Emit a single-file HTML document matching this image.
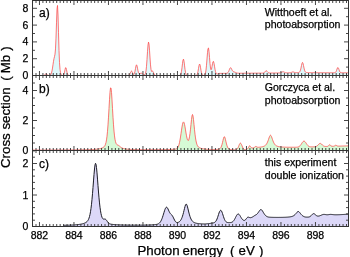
<!DOCTYPE html><html><head><meta charset="utf-8"><style>html,body{margin:0;padding:0;background:#fff;width:350px;height:257px;overflow:hidden}svg{display:block}</style></head><body><svg width="350" height="257" viewBox="0 0 350 257">
<rect width="350" height="257" fill="#fff"/>
<path d="M32.50,75.50 L33.00,75.50 L33.50,75.50 L34.00,75.50 L34.50,75.50 L35.00,75.50 L35.50,75.50 L36.00,75.50 L36.50,75.50 L37.00,75.50 L37.50,75.50 L38.00,75.50 L38.50,75.50 L39.00,75.50 L39.50,75.50 L40.00,75.50 L40.50,75.50 L41.00,75.50 L41.50,75.50 L42.00,75.50 L42.50,75.50 L43.00,75.49 L43.50,75.45 L44.00,75.32 L44.50,75.02 L45.00,74.55 L45.50,74.08 L46.00,73.90 L46.50,74.15 L47.00,74.65 L47.50,75.10 L48.00,75.35 L48.50,75.45 L49.00,75.47 L49.50,75.42 L50.00,75.27 L50.50,74.93 L51.00,74.23 L51.50,72.95 L52.00,70.90 L52.50,68.06 L53.00,64.68 L53.50,61.30 L54.00,58.57 L54.50,56.58 L55.00,54.20 L55.50,48.88 L56.00,38.13 L56.50,22.83 L57.00,9.19 L57.50,5.46 L58.00,14.94 L58.50,32.76 L59.00,50.41 L59.50,62.60 L60.00,69.27 L60.50,72.62 L61.00,74.32 L61.50,75.12 L62.00,75.40 L62.50,75.46 L63.00,75.39 L63.50,75.06 L64.00,74.12 L64.50,72.23 L65.00,69.70 L65.50,67.78 L66.00,67.78 L66.50,69.70 L67.00,72.23 L67.50,74.12 L68.00,75.06 L68.50,75.39 L69.00,75.48 L69.50,75.50 L70.00,75.50 L70.50,75.50 L71.00,75.50 L71.50,75.50 L72.00,75.50 L72.50,75.50 L73.00,75.50 L73.50,75.50 L74.00,75.50 L74.50,75.50 L75.00,75.50 L75.50,75.50 L76.00,75.50 L76.50,75.50 L77.00,75.50 L77.50,75.50 L78.00,75.50 L78.50,75.50 L79.00,75.50 L79.50,75.50 L80.00,75.50 L80.50,75.50 L81.00,75.50 L81.50,75.50 L82.00,75.50 L82.50,75.50 L83.00,75.50 L83.50,75.50 L84.00,75.50 L84.50,75.50 L85.00,75.50 L85.50,75.50 L86.00,75.50 L86.50,75.50 L87.00,75.50 L87.50,75.50 L88.00,75.50 L88.50,75.50 L89.00,75.50 L89.50,75.50 L90.00,75.50 L90.50,75.50 L91.00,75.50 L91.50,75.50 L92.00,75.50 L92.50,75.50 L93.00,75.50 L93.50,75.50 L94.00,75.50 L94.50,75.50 L95.00,75.50 L95.50,75.50 L96.00,75.50 L96.50,75.50 L97.00,75.50 L97.50,75.50 L98.00,75.50 L98.50,75.50 L99.00,75.50 L99.50,75.50 L100.00,75.50 L100.50,75.50 L101.00,75.50 L101.50,75.50 L102.00,75.50 L102.50,75.50 L103.00,75.50 L103.50,75.50 L104.00,75.50 L104.50,75.50 L105.00,75.50 L105.50,75.50 L106.00,75.50 L106.50,75.50 L107.00,75.50 L107.50,75.50 L108.00,75.50 L108.50,75.50 L109.00,75.50 L109.50,75.50 L110.00,75.50 L110.50,75.50 L111.00,75.50 L111.50,75.50 L112.00,75.50 L112.50,75.50 L113.00,75.50 L113.50,75.50 L114.00,75.50 L114.50,75.50 L115.00,75.50 L115.50,75.50 L116.00,75.50 L116.50,75.50 L117.00,75.50 L117.50,75.50 L118.00,75.50 L118.50,75.50 L119.00,75.50 L119.50,75.50 L120.00,75.50 L120.50,75.50 L121.00,75.50 L121.50,75.50 L122.00,75.50 L122.50,75.50 L123.00,75.50 L123.50,75.50 L124.00,75.50 L124.50,75.50 L125.00,75.50 L125.50,75.50 L126.00,75.50 L126.50,75.50 L127.00,75.50 L127.50,75.49 L128.00,75.47 L128.50,75.39 L129.00,75.16 L129.50,74.65 L130.00,73.75 L130.50,72.58 L131.00,71.53 L131.50,71.10 L132.00,71.53 L132.50,72.57 L133.00,73.68 L133.50,74.38 L134.00,74.34 L134.50,73.33 L135.00,71.25 L135.50,68.44 L136.00,65.89 L136.50,64.81 L137.00,65.77 L137.50,68.18 L138.00,70.80 L138.50,72.70 L139.00,73.61 L139.50,73.79 L140.00,73.62 L140.50,73.39 L141.00,73.23 L141.50,73.21 L142.00,73.36 L142.50,73.63 L143.00,73.98 L143.50,74.34 L144.00,74.63 L144.50,74.76 L145.00,74.49 L145.50,73.41 L146.00,70.90 L146.50,66.30 L147.00,59.54 L147.50,51.71 L148.00,45.07 L148.50,42.12 L149.00,44.12 L149.50,50.19 L150.00,57.96 L150.50,64.89 L151.00,69.44 L151.50,71.37 L152.00,71.47 L152.50,71.12 L153.00,71.44 L153.50,72.57 L154.00,73.90 L154.50,74.84 L155.00,75.30 L155.50,75.45 L156.00,75.49 L156.50,75.50 L157.00,75.50 L157.50,75.50 L158.00,75.50 L158.50,75.50 L159.00,75.50 L159.50,75.50 L160.00,75.50 L160.50,75.50 L161.00,75.50 L161.50,75.50 L162.00,75.50 L162.50,75.50 L163.00,75.50 L163.50,75.50 L164.00,75.50 L164.50,75.50 L165.00,75.50 L165.50,75.50 L166.00,75.50 L166.50,75.50 L167.00,75.50 L167.50,75.50 L168.00,75.50 L168.50,75.50 L169.00,75.50 L169.50,75.50 L170.00,75.50 L170.50,75.50 L171.00,75.50 L171.50,75.50 L172.00,75.50 L172.50,75.50 L173.00,75.50 L173.50,75.50 L174.00,75.50 L174.50,75.50 L175.00,75.50 L175.50,75.50 L176.00,75.50 L176.50,75.50 L177.00,75.50 L177.50,75.50 L178.00,75.50 L178.50,75.50 L179.00,75.49 L179.50,75.45 L180.00,75.30 L180.50,74.83 L181.00,73.67 L181.50,71.34 L182.00,67.72 L182.50,63.45 L183.00,60.07 L183.50,59.16 L184.00,61.20 L184.50,65.15 L185.00,69.31 L185.50,72.43 L186.00,74.25 L186.50,75.08 L187.00,75.38 L187.50,75.47 L188.00,75.49 L188.50,75.50 L189.00,75.50 L189.50,75.50 L190.00,75.50 L190.50,75.50 L191.00,75.50 L191.50,75.50 L192.00,75.50 L192.50,75.50 L193.00,75.50 L193.50,75.50 L194.00,75.50 L194.50,75.50 L195.00,75.50 L195.50,75.49 L196.00,75.44 L196.50,75.28 L197.00,74.78 L197.50,73.62 L198.00,71.48 L198.50,68.50 L199.00,65.58 L199.50,64.05 L200.00,64.73 L200.50,67.25 L201.00,70.35 L201.50,72.88 L202.00,74.42 L202.50,75.13 L203.00,75.39 L203.50,75.45 L204.00,75.40 L204.50,75.17 L205.00,74.53 L205.50,73.02 L206.00,70.05 L206.50,65.25 L207.00,58.98 L207.50,52.67 L208.00,48.46 L208.50,48.03 L209.00,51.55 L209.50,57.49 L210.00,63.59 L210.50,67.97 L211.00,69.77 L211.50,69.08 L212.00,66.65 L212.50,63.72 L213.00,61.66 L213.50,61.47 L214.00,63.29 L214.50,66.18 L215.00,69.25 L215.50,71.67 L216.00,73.16 L216.50,73.84 L217.00,74.03 L217.50,73.97 L218.00,73.80 L218.50,73.61 L219.00,73.40 L219.50,73.40 L220.00,73.39 L220.50,73.39 L221.00,73.39 L221.50,73.38 L222.00,73.38 L222.50,73.38 L223.00,73.37 L223.50,73.37 L224.00,73.37 L224.50,73.36 L225.00,73.36 L225.50,73.36 L226.00,73.34 L226.50,73.31 L227.00,73.22 L227.50,73.00 L228.00,72.54 L228.50,71.73 L229.00,70.57 L229.50,69.25 L230.00,68.16 L230.50,67.67 L231.00,67.96 L231.50,68.84 L232.00,69.92 L232.50,70.83 L233.00,71.41 L233.50,71.72 L234.00,71.88 L234.50,72.02 L235.00,72.19 L235.50,72.41 L236.00,72.64 L236.50,72.85 L237.00,73.01 L237.50,73.13 L238.00,73.20 L238.50,73.24 L239.00,73.25 L239.50,73.26 L240.00,73.26 L240.50,73.26 L241.00,73.26 L241.50,73.26 L242.00,73.25 L242.50,73.25 L243.00,73.25 L243.50,73.24 L244.00,73.24 L244.50,73.24 L245.00,73.23 L245.50,73.23 L246.00,73.23 L246.50,73.22 L247.00,73.22 L247.50,73.22 L248.00,73.21 L248.50,73.21 L249.00,73.21 L249.50,73.20 L250.00,73.20 L250.50,73.20 L251.00,73.19 L251.50,73.19 L252.00,73.19 L252.50,73.18 L253.00,73.18 L253.50,73.18 L254.00,73.18 L254.50,73.17 L255.00,73.17 L255.50,73.17 L256.00,73.16 L256.50,73.16 L257.00,73.16 L257.50,73.15 L258.00,73.15 L258.50,73.15 L259.00,73.14 L259.50,73.14 L260.00,73.14 L260.50,73.13 L261.00,73.13 L261.50,73.13 L262.00,73.12 L262.50,73.11 L263.00,73.08 L263.50,72.99 L264.00,72.78 L264.50,72.37 L265.00,71.77 L265.50,71.14 L266.00,70.74 L266.50,70.78 L267.00,71.24 L267.50,71.88 L268.00,72.44 L268.50,72.79 L269.00,72.97 L269.50,73.03 L270.00,73.04 L270.50,73.04 L271.00,73.04 L271.50,73.03 L272.00,73.03 L272.50,73.02 L273.00,73.01 L273.50,73.01 L274.00,73.00 L274.50,73.00 L275.00,72.99 L275.50,72.98 L276.00,72.98 L276.50,72.97 L277.00,72.97 L277.50,72.96 L278.00,72.95 L278.50,72.95 L279.00,72.94 L279.50,72.92 L280.00,72.89 L280.50,72.81 L281.00,72.66 L281.50,72.43 L282.00,72.12 L282.50,71.84 L283.00,71.70 L283.50,71.75 L284.00,71.98 L284.50,72.27 L285.00,72.53 L285.50,72.70 L286.00,72.79 L286.50,72.83 L287.00,72.83 L287.50,72.83 L288.00,72.83 L288.50,72.82 L289.00,72.81 L289.50,72.80 L290.00,72.77 L290.50,72.71 L291.00,72.58 L291.50,72.37 L292.00,72.12 L292.50,71.92 L293.00,71.85 L293.50,71.96 L294.00,72.18 L294.50,72.40 L295.00,72.56 L295.50,72.64 L296.00,72.66 L296.50,72.66 L297.00,72.64 L297.50,72.62 L298.00,72.58 L298.50,72.52 L299.00,72.38 L299.50,72.07 L300.00,71.37 L300.50,70.07 L301.00,68.03 L301.50,65.53 L302.00,63.32 L302.50,62.41 L303.00,63.32 L303.50,65.54 L304.00,68.04 L304.50,70.07 L305.00,71.38 L305.50,72.07 L306.00,72.38 L306.50,72.51 L307.00,72.57 L307.50,72.60 L308.00,72.62 L308.50,72.64 L309.00,72.65 L309.50,72.66 L310.00,72.67 L310.50,72.68 L311.00,72.68 L311.50,72.69 L312.00,72.69 L312.50,72.70 L313.00,72.70 L313.50,72.70 L314.00,72.71 L314.50,72.71 L315.00,72.71 L315.50,72.71 L316.00,72.72 L316.50,72.72 L317.00,72.72 L317.50,72.72 L318.00,72.72 L318.50,72.73 L319.00,72.73 L319.50,72.73 L320.00,72.73 L320.50,72.73 L321.00,72.73 L321.50,72.74 L322.00,72.74 L322.50,72.74 L323.00,72.74 L323.50,72.74 L324.00,72.74 L324.50,72.74 L325.00,72.75 L325.50,72.75 L326.00,72.75 L326.50,72.75 L327.00,72.75 L327.50,72.75 L328.00,72.75 L328.50,72.75 L329.00,72.75 L329.50,72.76 L330.00,72.76 L330.50,72.76 L331.00,72.76 L331.50,72.76 L332.00,72.76 L332.50,72.76 L333.00,72.76 L333.50,72.76 L334.00,72.76 L334.50,72.74 L335.00,72.64 L335.50,72.36 L336.00,71.70 L336.50,70.55 L337.00,69.07 L337.50,67.84 L338.00,67.50 L338.50,68.26 L339.00,69.68 L339.50,71.08 L340.00,72.03 L340.50,72.52 L341.00,72.71 L341.50,72.77 L342.00,72.78 L342.50,72.78 L343.00,72.79 L343.50,72.79 L344.00,72.79 L344.50,72.79 L345.00,72.79 L345.50,72.79 L346.00,72.79 L346.50,72.79 L347.00,72.79 L347.50,72.80 L348.00,72.80 L348.50,72.80 L348.50,75.5 L32.50,75.5 Z" fill="#dff8fb" stroke="none"/>
<path d="M32.50,75.50 L33.00,75.50 L33.50,75.50 L34.00,75.50 L34.50,75.50 L35.00,75.50 L35.50,75.50 L36.00,75.50 L36.50,75.50 L37.00,75.50 L37.50,75.50 L38.00,75.50 L38.50,75.50 L39.00,75.50 L39.50,75.50 L40.00,75.50 L40.50,75.50 L41.00,75.50 L41.50,75.50 L42.00,75.50 L42.50,75.50 L43.00,75.49 L43.50,75.45 L44.00,75.32 L44.50,75.02 L45.00,74.55 L45.50,74.08 L46.00,73.90 L46.50,74.15 L47.00,74.65 L47.50,75.10 L48.00,75.35 L48.50,75.45 L49.00,75.47 L49.50,75.42 L50.00,75.27 L50.50,74.93 L51.00,74.23 L51.50,72.95 L52.00,70.90 L52.50,68.06 L53.00,64.68 L53.50,61.30 L54.00,58.57 L54.50,56.58 L55.00,54.20 L55.50,48.88 L56.00,38.13 L56.50,22.83 L57.00,9.19 L57.50,5.46 L58.00,14.94 L58.50,32.76 L59.00,50.41 L59.50,62.60 L60.00,69.27 L60.50,72.62 L61.00,74.32 L61.50,75.12 L62.00,75.40 L62.50,75.46 L63.00,75.39 L63.50,75.06 L64.00,74.12 L64.50,72.23 L65.00,69.70 L65.50,67.78 L66.00,67.78 L66.50,69.70 L67.00,72.23 L67.50,74.12 L68.00,75.06 L68.50,75.39 L69.00,75.48 L69.50,75.50 L70.00,75.50 L70.50,75.50 L71.00,75.50 L71.50,75.50 L72.00,75.50 L72.50,75.50 L73.00,75.50 L73.50,75.50 L74.00,75.50 L74.50,75.50 L75.00,75.50 L75.50,75.50 L76.00,75.50 L76.50,75.50 L77.00,75.50 L77.50,75.50 L78.00,75.50 L78.50,75.50 L79.00,75.50 L79.50,75.50 L80.00,75.50 L80.50,75.50 L81.00,75.50 L81.50,75.50 L82.00,75.50 L82.50,75.50 L83.00,75.50 L83.50,75.50 L84.00,75.50 L84.50,75.50 L85.00,75.50 L85.50,75.50 L86.00,75.50 L86.50,75.50 L87.00,75.50 L87.50,75.50 L88.00,75.50 L88.50,75.50 L89.00,75.50 L89.50,75.50 L90.00,75.50 L90.50,75.50 L91.00,75.50 L91.50,75.50 L92.00,75.50 L92.50,75.50 L93.00,75.50 L93.50,75.50 L94.00,75.50 L94.50,75.50 L95.00,75.50 L95.50,75.50 L96.00,75.50 L96.50,75.50 L97.00,75.50 L97.50,75.50 L98.00,75.50 L98.50,75.50 L99.00,75.50 L99.50,75.50 L100.00,75.50 L100.50,75.50 L101.00,75.50 L101.50,75.50 L102.00,75.50 L102.50,75.50 L103.00,75.50 L103.50,75.50 L104.00,75.50 L104.50,75.50 L105.00,75.50 L105.50,75.50 L106.00,75.50 L106.50,75.50 L107.00,75.50 L107.50,75.50 L108.00,75.50 L108.50,75.50 L109.00,75.50 L109.50,75.50 L110.00,75.50 L110.50,75.50 L111.00,75.50 L111.50,75.50 L112.00,75.50 L112.50,75.50 L113.00,75.50 L113.50,75.50 L114.00,75.50 L114.50,75.50 L115.00,75.50 L115.50,75.50 L116.00,75.50 L116.50,75.50 L117.00,75.50 L117.50,75.50 L118.00,75.50 L118.50,75.50 L119.00,75.50 L119.50,75.50 L120.00,75.50 L120.50,75.50 L121.00,75.50 L121.50,75.50 L122.00,75.50 L122.50,75.50 L123.00,75.50 L123.50,75.50 L124.00,75.50 L124.50,75.50 L125.00,75.50 L125.50,75.50 L126.00,75.50 L126.50,75.50 L127.00,75.50 L127.50,75.49 L128.00,75.47 L128.50,75.39 L129.00,75.16 L129.50,74.65 L130.00,73.75 L130.50,72.58 L131.00,71.53 L131.50,71.10 L132.00,71.53 L132.50,72.57 L133.00,73.68 L133.50,74.38 L134.00,74.34 L134.50,73.33 L135.00,71.25 L135.50,68.44 L136.00,65.89 L136.50,64.81 L137.00,65.77 L137.50,68.18 L138.00,70.80 L138.50,72.70 L139.00,73.61 L139.50,73.79 L140.00,73.62 L140.50,73.39 L141.00,73.23 L141.50,73.21 L142.00,73.36 L142.50,73.63 L143.00,73.98 L143.50,74.34 L144.00,74.63 L144.50,74.76 L145.00,74.49 L145.50,73.41 L146.00,70.90 L146.50,66.30 L147.00,59.54 L147.50,51.71 L148.00,45.07 L148.50,42.12 L149.00,44.12 L149.50,50.19 L150.00,57.96 L150.50,64.89 L151.00,69.44 L151.50,71.37 L152.00,71.47 L152.50,71.12 L153.00,71.44 L153.50,72.57 L154.00,73.90 L154.50,74.84 L155.00,75.30 L155.50,75.45 L156.00,75.49 L156.50,75.50 L157.00,75.50 L157.50,75.50 L158.00,75.50 L158.50,75.50 L159.00,75.50 L159.50,75.50 L160.00,75.50 L160.50,75.50 L161.00,75.50 L161.50,75.50 L162.00,75.50 L162.50,75.50 L163.00,75.50 L163.50,75.50 L164.00,75.50 L164.50,75.50 L165.00,75.50 L165.50,75.50 L166.00,75.50 L166.50,75.50 L167.00,75.50 L167.50,75.50 L168.00,75.50 L168.50,75.50 L169.00,75.50 L169.50,75.50 L170.00,75.50 L170.50,75.50 L171.00,75.50 L171.50,75.50 L172.00,75.50 L172.50,75.50 L173.00,75.50 L173.50,75.50 L174.00,75.50 L174.50,75.50 L175.00,75.50 L175.50,75.50 L176.00,75.50 L176.50,75.50 L177.00,75.50 L177.50,75.50 L178.00,75.50 L178.50,75.50 L179.00,75.49 L179.50,75.45 L180.00,75.30 L180.50,74.83 L181.00,73.67 L181.50,71.34 L182.00,67.72 L182.50,63.45 L183.00,60.07 L183.50,59.16 L184.00,61.20 L184.50,65.15 L185.00,69.31 L185.50,72.43 L186.00,74.25 L186.50,75.08 L187.00,75.38 L187.50,75.47 L188.00,75.49 L188.50,75.50 L189.00,75.50 L189.50,75.50 L190.00,75.50 L190.50,75.50 L191.00,75.50 L191.50,75.50 L192.00,75.50 L192.50,75.50 L193.00,75.50 L193.50,75.50 L194.00,75.50 L194.50,75.50 L195.00,75.50 L195.50,75.49 L196.00,75.44 L196.50,75.28 L197.00,74.78 L197.50,73.62 L198.00,71.48 L198.50,68.50 L199.00,65.58 L199.50,64.05 L200.00,64.73 L200.50,67.25 L201.00,70.35 L201.50,72.88 L202.00,74.42 L202.50,75.13 L203.00,75.39 L203.50,75.45 L204.00,75.40 L204.50,75.17 L205.00,74.53 L205.50,73.02 L206.00,70.05 L206.50,65.25 L207.00,58.98 L207.50,52.67 L208.00,48.46 L208.50,48.03 L209.00,51.55 L209.50,57.49 L210.00,63.59 L210.50,67.97 L211.00,69.77 L211.50,69.08 L212.00,66.65 L212.50,63.72 L213.00,61.66 L213.50,61.47 L214.00,63.29 L214.50,66.18 L215.00,69.25 L215.50,71.67 L216.00,73.16 L216.50,73.84 L217.00,74.03 L217.50,73.97 L218.00,73.80 L218.50,73.61 L219.00,73.40 L219.50,73.40 L220.00,73.39 L220.50,73.39 L221.00,73.39 L221.50,73.38 L222.00,73.38 L222.50,73.38 L223.00,73.37 L223.50,73.37 L224.00,73.37 L224.50,73.36 L225.00,73.36 L225.50,73.36 L226.00,73.34 L226.50,73.31 L227.00,73.22 L227.50,73.00 L228.00,72.54 L228.50,71.73 L229.00,70.57 L229.50,69.25 L230.00,68.16 L230.50,67.67 L231.00,67.96 L231.50,68.84 L232.00,69.92 L232.50,70.83 L233.00,71.41 L233.50,71.72 L234.00,71.88 L234.50,72.02 L235.00,72.19 L235.50,72.41 L236.00,72.64 L236.50,72.85 L237.00,73.01 L237.50,73.13 L238.00,73.20 L238.50,73.24 L239.00,73.25 L239.50,73.26 L240.00,73.26 L240.50,73.26 L241.00,73.26 L241.50,73.26 L242.00,73.25 L242.50,73.25 L243.00,73.25 L243.50,73.24 L244.00,73.24 L244.50,73.24 L245.00,73.23 L245.50,73.23 L246.00,73.23 L246.50,73.22 L247.00,73.22 L247.50,73.22 L248.00,73.21 L248.50,73.21 L249.00,73.21 L249.50,73.20 L250.00,73.20 L250.50,73.20 L251.00,73.19 L251.50,73.19 L252.00,73.19 L252.50,73.18 L253.00,73.18 L253.50,73.18 L254.00,73.18 L254.50,73.17 L255.00,73.17 L255.50,73.17 L256.00,73.16 L256.50,73.16 L257.00,73.16 L257.50,73.15 L258.00,73.15 L258.50,73.15 L259.00,73.14 L259.50,73.14 L260.00,73.14 L260.50,73.13 L261.00,73.13 L261.50,73.13 L262.00,73.12 L262.50,73.11 L263.00,73.08 L263.50,72.99 L264.00,72.78 L264.50,72.37 L265.00,71.77 L265.50,71.14 L266.00,70.74 L266.50,70.78 L267.00,71.24 L267.50,71.88 L268.00,72.44 L268.50,72.79 L269.00,72.97 L269.50,73.03 L270.00,73.04 L270.50,73.04 L271.00,73.04 L271.50,73.03 L272.00,73.03 L272.50,73.02 L273.00,73.01 L273.50,73.01 L274.00,73.00 L274.50,73.00 L275.00,72.99 L275.50,72.98 L276.00,72.98 L276.50,72.97 L277.00,72.97 L277.50,72.96 L278.00,72.95 L278.50,72.95 L279.00,72.94 L279.50,72.92 L280.00,72.89 L280.50,72.81 L281.00,72.66 L281.50,72.43 L282.00,72.12 L282.50,71.84 L283.00,71.70 L283.50,71.75 L284.00,71.98 L284.50,72.27 L285.00,72.53 L285.50,72.70 L286.00,72.79 L286.50,72.83 L287.00,72.83 L287.50,72.83 L288.00,72.83 L288.50,72.82 L289.00,72.81 L289.50,72.80 L290.00,72.77 L290.50,72.71 L291.00,72.58 L291.50,72.37 L292.00,72.12 L292.50,71.92 L293.00,71.85 L293.50,71.96 L294.00,72.18 L294.50,72.40 L295.00,72.56 L295.50,72.64 L296.00,72.66 L296.50,72.66 L297.00,72.64 L297.50,72.62 L298.00,72.58 L298.50,72.52 L299.00,72.38 L299.50,72.07 L300.00,71.37 L300.50,70.07 L301.00,68.03 L301.50,65.53 L302.00,63.32 L302.50,62.41 L303.00,63.32 L303.50,65.54 L304.00,68.04 L304.50,70.07 L305.00,71.38 L305.50,72.07 L306.00,72.38 L306.50,72.51 L307.00,72.57 L307.50,72.60 L308.00,72.62 L308.50,72.64 L309.00,72.65 L309.50,72.66 L310.00,72.67 L310.50,72.68 L311.00,72.68 L311.50,72.69 L312.00,72.69 L312.50,72.70 L313.00,72.70 L313.50,72.70 L314.00,72.71 L314.50,72.71 L315.00,72.71 L315.50,72.71 L316.00,72.72 L316.50,72.72 L317.00,72.72 L317.50,72.72 L318.00,72.72 L318.50,72.73 L319.00,72.73 L319.50,72.73 L320.00,72.73 L320.50,72.73 L321.00,72.73 L321.50,72.74 L322.00,72.74 L322.50,72.74 L323.00,72.74 L323.50,72.74 L324.00,72.74 L324.50,72.74 L325.00,72.75 L325.50,72.75 L326.00,72.75 L326.50,72.75 L327.00,72.75 L327.50,72.75 L328.00,72.75 L328.50,72.75 L329.00,72.75 L329.50,72.76 L330.00,72.76 L330.50,72.76 L331.00,72.76 L331.50,72.76 L332.00,72.76 L332.50,72.76 L333.00,72.76 L333.50,72.76 L334.00,72.76 L334.50,72.74 L335.00,72.64 L335.50,72.36 L336.00,71.70 L336.50,70.55 L337.00,69.07 L337.50,67.84 L338.00,67.50 L338.50,68.26 L339.00,69.68 L339.50,71.08 L340.00,72.03 L340.50,72.52 L341.00,72.71 L341.50,72.77 L342.00,72.78 L342.50,72.78 L343.00,72.79 L343.50,72.79 L344.00,72.79 L344.50,72.79 L345.00,72.79 L345.50,72.79 L346.00,72.79 L346.50,72.79 L347.00,72.79 L347.50,72.80 L348.00,72.80 L348.50,72.80" fill="none" stroke="#ff4545" stroke-width="0.75" stroke-linejoin="round"/>
<path d="M32.50,150.10 L33.00,150.10 L33.50,150.10 L34.00,150.10 L34.50,150.10 L35.00,150.10 L35.50,150.09 L36.00,150.09 L36.50,150.09 L37.00,150.09 L37.50,150.09 L38.00,150.09 L38.50,150.09 L39.00,150.08 L39.50,150.08 L40.00,150.08 L40.50,150.08 L41.00,150.08 L41.50,150.08 L42.00,150.07 L42.50,150.07 L43.00,150.07 L43.50,150.07 L44.00,150.07 L44.50,150.07 L45.00,150.06 L45.50,150.06 L46.00,150.06 L46.50,150.06 L47.00,150.06 L47.50,150.06 L48.00,150.05 L48.50,150.05 L49.00,150.05 L49.50,150.05 L50.00,150.05 L50.50,150.04 L51.00,150.04 L51.50,150.04 L52.00,150.04 L52.50,150.04 L53.00,150.03 L53.50,150.03 L54.00,150.03 L54.50,150.03 L55.00,150.03 L55.50,150.02 L56.00,150.02 L56.50,150.02 L57.00,150.02 L57.50,150.02 L58.00,150.01 L58.50,150.01 L59.00,150.01 L59.50,150.01 L60.00,150.00 L60.50,150.00 L61.00,150.00 L61.50,150.00 L62.00,149.99 L62.50,149.99 L63.00,149.99 L63.50,149.99 L64.00,149.98 L64.50,149.98 L65.00,149.98 L65.50,149.98 L66.00,149.97 L66.50,149.97 L67.00,149.97 L67.50,149.96 L68.00,149.96 L68.50,149.96 L69.00,149.95 L69.50,149.95 L70.00,149.95 L70.50,149.94 L71.00,149.94 L71.50,149.94 L72.00,149.93 L72.50,149.93 L73.00,149.92 L73.50,149.92 L74.00,149.92 L74.50,149.91 L75.00,149.91 L75.50,149.90 L76.00,149.90 L76.50,149.89 L77.00,149.89 L77.50,149.88 L78.00,149.88 L78.50,149.87 L79.00,149.86 L79.50,149.86 L80.00,149.85 L80.50,149.84 L81.00,149.84 L81.50,149.83 L82.00,149.82 L82.50,149.81 L83.00,149.81 L83.50,149.80 L84.00,149.79 L84.50,149.78 L85.00,149.77 L85.50,149.76 L86.00,149.75 L86.50,149.73 L87.00,149.72 L87.50,149.71 L88.00,149.69 L88.50,149.68 L89.00,149.66 L89.50,149.65 L90.00,149.63 L90.50,149.61 L91.00,149.59 L91.50,149.57 L92.00,149.54 L92.50,149.52 L93.00,149.49 L93.50,149.46 L94.00,149.43 L94.50,149.39 L95.00,149.36 L95.50,149.32 L96.00,149.27 L96.50,149.22 L97.00,149.16 L97.50,149.10 L98.00,149.03 L98.50,148.96 L99.00,148.87 L99.50,148.78 L100.00,148.67 L100.50,148.55 L101.00,148.40 L101.50,148.24 L102.00,148.05 L102.50,147.83 L103.00,147.56 L103.50,147.22 L104.00,146.79 L104.50,146.22 L105.00,145.40 L105.50,144.21 L106.00,142.46 L106.50,139.89 L107.00,136.25 L107.50,131.29 L108.00,124.89 L108.50,117.15 L109.00,108.47 L109.50,99.71 L110.00,92.27 L110.50,87.91 L111.00,87.98 L111.50,92.44 L112.00,99.92 L112.50,108.63 L113.00,117.22 L113.50,124.83 L114.00,131.08 L114.50,135.88 L115.00,139.34 L115.50,141.70 L116.00,143.23 L116.50,144.16 L117.00,144.69 L117.50,144.98 L118.00,145.17 L118.50,145.39 L119.00,145.70 L119.50,146.10 L120.00,146.55 L120.50,146.98 L121.00,147.36 L121.50,147.68 L122.00,147.96 L122.50,148.18 L123.00,148.37 L123.50,148.52 L124.00,148.66 L124.50,148.77 L125.00,148.87 L125.50,148.95 L126.00,149.02 L126.50,149.09 L127.00,149.14 L127.50,149.19 L128.00,149.24 L128.50,149.28 L129.00,149.31 L129.50,149.34 L130.00,149.37 L130.50,149.40 L131.00,149.43 L131.50,149.45 L132.00,149.47 L132.50,149.49 L133.00,149.50 L133.50,149.52 L134.00,149.53 L134.50,149.55 L135.00,149.56 L135.50,149.57 L136.00,149.58 L136.50,149.59 L137.00,149.60 L137.50,149.61 L138.00,149.62 L138.50,149.62 L139.00,149.63 L139.50,149.64 L140.00,149.64 L140.50,149.65 L141.00,149.65 L141.50,149.65 L142.00,149.66 L142.50,149.66 L143.00,149.67 L143.50,149.67 L144.00,149.67 L144.50,149.67 L145.00,149.68 L145.50,149.68 L146.00,149.68 L146.50,149.68 L147.00,149.68 L147.50,149.68 L148.00,149.68 L148.50,149.69 L149.00,149.69 L149.50,149.69 L150.00,149.69 L150.50,149.69 L151.00,149.69 L151.50,149.68 L152.00,149.68 L152.50,149.68 L153.00,149.68 L153.50,149.68 L154.00,149.68 L154.50,149.68 L155.00,149.68 L155.50,149.67 L156.00,149.67 L156.50,149.67 L157.00,149.67 L157.50,149.66 L158.00,149.66 L158.50,149.66 L159.00,149.65 L159.50,149.65 L160.00,149.65 L160.50,149.64 L161.00,149.64 L161.50,149.63 L162.00,149.63 L162.50,149.62 L163.00,149.61 L163.50,149.61 L164.00,149.60 L164.50,149.59 L165.00,149.59 L165.50,149.58 L166.00,149.57 L166.50,149.56 L167.00,149.55 L167.50,149.54 L168.00,149.53 L168.50,149.51 L169.00,149.50 L169.50,149.48 L170.00,149.47 L170.50,149.45 L171.00,149.43 L171.50,149.41 L172.00,149.39 L172.50,149.36 L173.00,149.33 L173.50,149.30 L174.00,149.26 L174.50,149.22 L175.00,149.15 L175.50,149.07 L176.00,148.94 L176.50,148.73 L177.00,148.42 L177.50,147.93 L178.00,147.19 L178.50,146.10 L179.00,144.59 L179.50,142.57 L180.00,140.03 L180.50,137.02 L181.00,133.66 L181.50,130.19 L182.00,126.94 L182.50,124.25 L183.00,122.48 L183.50,121.88 L184.00,122.53 L184.50,124.29 L185.00,126.87 L185.50,129.90 L186.00,133.00 L186.50,135.84 L187.00,138.16 L187.50,139.77 L188.00,140.53 L188.50,140.33 L189.00,139.11 L189.50,136.82 L190.00,133.47 L190.50,129.21 L191.00,124.36 L191.50,119.57 L192.00,115.89 L192.50,114.49 L193.00,115.95 L193.50,119.71 L194.00,124.61 L194.50,129.63 L195.00,134.16 L195.50,137.93 L196.00,140.87 L196.50,143.06 L197.00,144.62 L197.50,145.72 L198.00,146.49 L198.50,147.03 L199.00,147.42 L199.50,147.72 L200.00,147.96 L200.50,148.16 L201.00,148.33 L201.50,148.47 L202.00,148.60 L202.50,148.70 L203.00,148.80 L203.50,148.88 L204.00,148.96 L204.50,149.02 L205.00,149.08 L205.50,149.13 L206.00,149.18 L206.50,149.22 L207.00,149.26 L207.50,149.30 L208.00,149.33 L208.50,149.36 L209.00,149.38 L209.50,149.41 L210.00,149.43 L210.50,149.45 L211.00,149.46 L211.50,149.48 L212.00,149.49 L212.50,149.50 L213.00,149.50 L213.50,149.51 L214.00,149.51 L214.50,149.50 L215.00,149.50 L215.50,149.49 L216.00,149.47 L216.50,149.45 L217.00,149.42 L217.50,149.37 L218.00,149.31 L218.50,149.23 L219.00,149.10 L219.50,148.90 L220.00,148.57 L220.50,148.05 L221.00,147.24 L221.50,146.06 L222.00,144.47 L222.50,142.51 L223.00,140.35 L223.50,138.33 L224.00,136.96 L224.50,136.76 L225.00,137.82 L225.50,139.71 L226.00,141.89 L226.50,143.96 L227.00,145.70 L227.50,147.03 L228.00,147.96 L228.50,148.59 L229.00,148.99 L229.50,149.24 L230.00,149.41 L230.50,149.52 L231.00,149.60 L231.50,149.67 L232.00,149.72 L232.50,149.76 L233.00,149.79 L233.50,149.82 L234.00,149.83 L234.50,149.84 L235.00,149.83 L235.50,149.79 L236.00,149.69 L236.50,149.49 L237.00,149.13 L237.50,148.54 L238.00,147.69 L238.50,146.58 L239.00,145.34 L239.50,144.16 L240.00,143.33 L240.50,143.10 L241.00,143.56 L241.50,144.55 L242.00,145.78 L242.50,147.01 L243.00,148.05 L243.50,148.82 L244.00,149.33 L244.50,149.64 L245.00,149.79 L245.50,149.72 L246.00,149.59 L246.50,149.40 L247.00,149.15 L247.50,148.80 L248.00,148.28 L248.50,147.51 L249.00,146.51 L249.50,145.74 L250.00,145.93 L250.50,146.70 L251.00,147.34 L251.50,147.72 L252.00,147.89 L252.50,147.95 L253.00,147.93 L253.50,147.84 L254.00,147.66 L254.50,147.32 L255.00,146.85 L255.50,146.46 L256.00,146.37 L256.50,146.68 L257.00,147.01 L257.50,147.21 L258.00,147.27 L258.50,147.26 L259.00,147.22 L259.50,147.18 L260.00,147.13 L260.50,147.07 L261.00,147.00 L261.50,146.92 L262.00,146.82 L262.50,146.71 L263.00,146.58 L263.50,146.42 L264.00,146.22 L264.50,145.97 L265.00,145.64 L265.50,145.23 L266.00,144.70 L266.50,144.02 L267.00,143.16 L267.50,142.12 L268.00,140.88 L268.50,139.46 L269.00,137.97 L269.50,136.57 L270.00,135.56 L270.50,135.19 L271.00,135.61 L271.50,136.65 L272.00,138.05 L272.50,139.54 L273.00,140.93 L273.50,142.15 L274.00,143.16 L274.50,143.99 L275.00,144.65 L275.50,145.16 L276.00,145.56 L276.50,145.86 L277.00,146.10 L277.50,146.29 L278.00,146.44 L278.50,146.56 L279.00,146.66 L279.50,146.74 L280.00,146.81 L280.50,146.87 L281.00,146.92 L281.50,146.97 L282.00,147.00 L282.50,147.04 L283.00,147.07 L283.50,147.09 L284.00,147.11 L284.50,147.13 L285.00,147.15 L285.50,147.16 L286.00,147.18 L286.50,147.19 L287.00,147.20 L287.50,147.20 L288.00,147.21 L288.50,147.22 L289.00,147.22 L289.50,147.23 L290.00,147.23 L290.50,147.23 L291.00,147.23 L291.50,147.24 L292.00,147.24 L292.50,147.24 L293.00,147.24 L293.50,147.24 L294.00,147.23 L294.50,147.23 L295.00,147.23 L295.50,147.22 L296.00,147.21 L296.50,147.19 L297.00,147.16 L297.50,147.10 L298.00,147.00 L298.50,146.84 L299.00,146.60 L299.50,146.26 L300.00,145.80 L300.50,145.21 L301.00,144.51 L301.50,143.74 L302.00,142.94 L302.50,142.21 L303.00,141.61 L303.50,141.23 L304.00,141.11 L304.50,141.26 L305.00,141.66 L305.50,142.27 L306.00,142.99 L306.50,143.76 L307.00,144.50 L307.50,145.15 L308.00,145.69 L308.50,146.11 L309.00,146.41 L309.50,146.62 L310.00,146.75 L310.50,146.82 L311.00,146.86 L311.50,146.87 L312.00,146.87 L312.50,146.87 L313.00,146.86 L313.50,146.84 L314.00,146.82 L314.50,146.79 L315.00,146.74 L315.50,146.65 L316.00,146.51 L316.50,146.29 L317.00,145.98 L317.50,145.56 L318.00,145.05 L318.50,144.50 L319.00,143.98 L319.50,143.59 L320.00,143.38 L320.50,143.40 L321.00,143.65 L321.50,144.06 L322.00,144.57 L322.50,145.09 L323.00,145.54 L323.50,145.90 L324.00,146.15 L324.50,146.31 L325.00,146.41 L325.50,146.45 L326.00,146.47 L326.50,146.46 L327.00,146.45 L327.50,146.39 L328.00,146.21 L328.50,145.80 L329.00,145.21 L329.50,144.75 L330.00,144.80 L330.50,145.28 L331.00,145.82 L331.50,146.15 L332.00,146.27 L332.50,146.29 L333.00,146.28 L333.50,146.25 L334.00,146.15 L334.50,145.93 L335.00,145.59 L335.50,145.27 L336.00,145.23 L336.50,145.47 L337.00,145.80 L337.50,146.02 L338.00,146.11 L338.50,146.12 L339.00,146.11 L339.50,146.10 L340.00,146.08 L340.50,146.07 L341.00,146.05 L341.50,146.04 L342.00,146.02 L342.50,146.01 L343.00,145.99 L343.50,145.98 L344.00,145.96 L344.50,145.95 L345.00,145.93 L345.50,145.92 L346.00,145.90 L346.50,145.89 L347.00,145.87 L347.50,145.86 L348.00,145.84 L348.50,145.83 L348.50,150.5 L32.50,150.5 Z" fill="#d6fad6" stroke="none"/>
<path d="M32.50,150.10 L33.00,150.10 L33.50,150.10 L34.00,150.10 L34.50,150.10 L35.00,150.10 L35.50,150.09 L36.00,150.09 L36.50,150.09 L37.00,150.09 L37.50,150.09 L38.00,150.09 L38.50,150.09 L39.00,150.08 L39.50,150.08 L40.00,150.08 L40.50,150.08 L41.00,150.08 L41.50,150.08 L42.00,150.07 L42.50,150.07 L43.00,150.07 L43.50,150.07 L44.00,150.07 L44.50,150.07 L45.00,150.06 L45.50,150.06 L46.00,150.06 L46.50,150.06 L47.00,150.06 L47.50,150.06 L48.00,150.05 L48.50,150.05 L49.00,150.05 L49.50,150.05 L50.00,150.05 L50.50,150.04 L51.00,150.04 L51.50,150.04 L52.00,150.04 L52.50,150.04 L53.00,150.03 L53.50,150.03 L54.00,150.03 L54.50,150.03 L55.00,150.03 L55.50,150.02 L56.00,150.02 L56.50,150.02 L57.00,150.02 L57.50,150.02 L58.00,150.01 L58.50,150.01 L59.00,150.01 L59.50,150.01 L60.00,150.00 L60.50,150.00 L61.00,150.00 L61.50,150.00 L62.00,149.99 L62.50,149.99 L63.00,149.99 L63.50,149.99 L64.00,149.98 L64.50,149.98 L65.00,149.98 L65.50,149.98 L66.00,149.97 L66.50,149.97 L67.00,149.97 L67.50,149.96 L68.00,149.96 L68.50,149.96 L69.00,149.95 L69.50,149.95 L70.00,149.95 L70.50,149.94 L71.00,149.94 L71.50,149.94 L72.00,149.93 L72.50,149.93 L73.00,149.92 L73.50,149.92 L74.00,149.92 L74.50,149.91 L75.00,149.91 L75.50,149.90 L76.00,149.90 L76.50,149.89 L77.00,149.89 L77.50,149.88 L78.00,149.88 L78.50,149.87 L79.00,149.86 L79.50,149.86 L80.00,149.85 L80.50,149.84 L81.00,149.84 L81.50,149.83 L82.00,149.82 L82.50,149.81 L83.00,149.81 L83.50,149.80 L84.00,149.79 L84.50,149.78 L85.00,149.77 L85.50,149.76 L86.00,149.75 L86.50,149.73 L87.00,149.72 L87.50,149.71 L88.00,149.69 L88.50,149.68 L89.00,149.66 L89.50,149.65 L90.00,149.63 L90.50,149.61 L91.00,149.59 L91.50,149.57 L92.00,149.54 L92.50,149.52 L93.00,149.49 L93.50,149.46 L94.00,149.43 L94.50,149.39 L95.00,149.36 L95.50,149.32 L96.00,149.27 L96.50,149.22 L97.00,149.16 L97.50,149.10 L98.00,149.03 L98.50,148.96 L99.00,148.87 L99.50,148.78 L100.00,148.67 L100.50,148.55 L101.00,148.40 L101.50,148.24 L102.00,148.05 L102.50,147.83 L103.00,147.56 L103.50,147.22 L104.00,146.79 L104.50,146.22 L105.00,145.40 L105.50,144.21 L106.00,142.46 L106.50,139.89 L107.00,136.25 L107.50,131.29 L108.00,124.89 L108.50,117.15 L109.00,108.47 L109.50,99.71 L110.00,92.27 L110.50,87.91 L111.00,87.98 L111.50,92.44 L112.00,99.92 L112.50,108.63 L113.00,117.22 L113.50,124.83 L114.00,131.08 L114.50,135.88 L115.00,139.34 L115.50,141.70 L116.00,143.23 L116.50,144.16 L117.00,144.69 L117.50,144.98 L118.00,145.17 L118.50,145.39 L119.00,145.70 L119.50,146.10 L120.00,146.55 L120.50,146.98 L121.00,147.36 L121.50,147.68 L122.00,147.96 L122.50,148.18 L123.00,148.37 L123.50,148.52 L124.00,148.66 L124.50,148.77 L125.00,148.87 L125.50,148.95 L126.00,149.02 L126.50,149.09 L127.00,149.14 L127.50,149.19 L128.00,149.24 L128.50,149.28 L129.00,149.31 L129.50,149.34 L130.00,149.37 L130.50,149.40 L131.00,149.43 L131.50,149.45 L132.00,149.47 L132.50,149.49 L133.00,149.50 L133.50,149.52 L134.00,149.53 L134.50,149.55 L135.00,149.56 L135.50,149.57 L136.00,149.58 L136.50,149.59 L137.00,149.60 L137.50,149.61 L138.00,149.62 L138.50,149.62 L139.00,149.63 L139.50,149.64 L140.00,149.64 L140.50,149.65 L141.00,149.65 L141.50,149.65 L142.00,149.66 L142.50,149.66 L143.00,149.67 L143.50,149.67 L144.00,149.67 L144.50,149.67 L145.00,149.68 L145.50,149.68 L146.00,149.68 L146.50,149.68 L147.00,149.68 L147.50,149.68 L148.00,149.68 L148.50,149.69 L149.00,149.69 L149.50,149.69 L150.00,149.69 L150.50,149.69 L151.00,149.69 L151.50,149.68 L152.00,149.68 L152.50,149.68 L153.00,149.68 L153.50,149.68 L154.00,149.68 L154.50,149.68 L155.00,149.68 L155.50,149.67 L156.00,149.67 L156.50,149.67 L157.00,149.67 L157.50,149.66 L158.00,149.66 L158.50,149.66 L159.00,149.65 L159.50,149.65 L160.00,149.65 L160.50,149.64 L161.00,149.64 L161.50,149.63 L162.00,149.63 L162.50,149.62 L163.00,149.61 L163.50,149.61 L164.00,149.60 L164.50,149.59 L165.00,149.59 L165.50,149.58 L166.00,149.57 L166.50,149.56 L167.00,149.55 L167.50,149.54 L168.00,149.53 L168.50,149.51 L169.00,149.50 L169.50,149.48 L170.00,149.47 L170.50,149.45 L171.00,149.43 L171.50,149.41 L172.00,149.39 L172.50,149.36 L173.00,149.33 L173.50,149.30 L174.00,149.26 L174.50,149.22 L175.00,149.15 L175.50,149.07 L176.00,148.94 L176.50,148.73 L177.00,148.42 L177.50,147.93 L178.00,147.19 L178.50,146.10 L179.00,144.59 L179.50,142.57 L180.00,140.03 L180.50,137.02 L181.00,133.66 L181.50,130.19 L182.00,126.94 L182.50,124.25 L183.00,122.48 L183.50,121.88 L184.00,122.53 L184.50,124.29 L185.00,126.87 L185.50,129.90 L186.00,133.00 L186.50,135.84 L187.00,138.16 L187.50,139.77 L188.00,140.53 L188.50,140.33 L189.00,139.11 L189.50,136.82 L190.00,133.47 L190.50,129.21 L191.00,124.36 L191.50,119.57 L192.00,115.89 L192.50,114.49 L193.00,115.95 L193.50,119.71 L194.00,124.61 L194.50,129.63 L195.00,134.16 L195.50,137.93 L196.00,140.87 L196.50,143.06 L197.00,144.62 L197.50,145.72 L198.00,146.49 L198.50,147.03 L199.00,147.42 L199.50,147.72 L200.00,147.96 L200.50,148.16 L201.00,148.33 L201.50,148.47 L202.00,148.60 L202.50,148.70 L203.00,148.80 L203.50,148.88 L204.00,148.96 L204.50,149.02 L205.00,149.08 L205.50,149.13 L206.00,149.18 L206.50,149.22 L207.00,149.26 L207.50,149.30 L208.00,149.33 L208.50,149.36 L209.00,149.38 L209.50,149.41 L210.00,149.43 L210.50,149.45 L211.00,149.46 L211.50,149.48 L212.00,149.49 L212.50,149.50 L213.00,149.50 L213.50,149.51 L214.00,149.51 L214.50,149.50 L215.00,149.50 L215.50,149.49 L216.00,149.47 L216.50,149.45 L217.00,149.42 L217.50,149.37 L218.00,149.31 L218.50,149.23 L219.00,149.10 L219.50,148.90 L220.00,148.57 L220.50,148.05 L221.00,147.24 L221.50,146.06 L222.00,144.47 L222.50,142.51 L223.00,140.35 L223.50,138.33 L224.00,136.96 L224.50,136.76 L225.00,137.82 L225.50,139.71 L226.00,141.89 L226.50,143.96 L227.00,145.70 L227.50,147.03 L228.00,147.96 L228.50,148.59 L229.00,148.99 L229.50,149.24 L230.00,149.41 L230.50,149.52 L231.00,149.60 L231.50,149.67 L232.00,149.72 L232.50,149.76 L233.00,149.79 L233.50,149.82 L234.00,149.83 L234.50,149.84 L235.00,149.83 L235.50,149.79 L236.00,149.69 L236.50,149.49 L237.00,149.13 L237.50,148.54 L238.00,147.69 L238.50,146.58 L239.00,145.34 L239.50,144.16 L240.00,143.33 L240.50,143.10 L241.00,143.56 L241.50,144.55 L242.00,145.78 L242.50,147.01 L243.00,148.05 L243.50,148.82 L244.00,149.33 L244.50,149.64 L245.00,149.79 L245.50,149.72 L246.00,149.59 L246.50,149.40 L247.00,149.15 L247.50,148.80 L248.00,148.28 L248.50,147.51 L249.00,146.51 L249.50,145.74 L250.00,145.93 L250.50,146.70 L251.00,147.34 L251.50,147.72 L252.00,147.89 L252.50,147.95 L253.00,147.93 L253.50,147.84 L254.00,147.66 L254.50,147.32 L255.00,146.85 L255.50,146.46 L256.00,146.37 L256.50,146.68 L257.00,147.01 L257.50,147.21 L258.00,147.27 L258.50,147.26 L259.00,147.22 L259.50,147.18 L260.00,147.13 L260.50,147.07 L261.00,147.00 L261.50,146.92 L262.00,146.82 L262.50,146.71 L263.00,146.58 L263.50,146.42 L264.00,146.22 L264.50,145.97 L265.00,145.64 L265.50,145.23 L266.00,144.70 L266.50,144.02 L267.00,143.16 L267.50,142.12 L268.00,140.88 L268.50,139.46 L269.00,137.97 L269.50,136.57 L270.00,135.56 L270.50,135.19 L271.00,135.61 L271.50,136.65 L272.00,138.05 L272.50,139.54 L273.00,140.93 L273.50,142.15 L274.00,143.16 L274.50,143.99 L275.00,144.65 L275.50,145.16 L276.00,145.56 L276.50,145.86 L277.00,146.10 L277.50,146.29 L278.00,146.44 L278.50,146.56 L279.00,146.66 L279.50,146.74 L280.00,146.81 L280.50,146.87 L281.00,146.92 L281.50,146.97 L282.00,147.00 L282.50,147.04 L283.00,147.07 L283.50,147.09 L284.00,147.11 L284.50,147.13 L285.00,147.15 L285.50,147.16 L286.00,147.18 L286.50,147.19 L287.00,147.20 L287.50,147.20 L288.00,147.21 L288.50,147.22 L289.00,147.22 L289.50,147.23 L290.00,147.23 L290.50,147.23 L291.00,147.23 L291.50,147.24 L292.00,147.24 L292.50,147.24 L293.00,147.24 L293.50,147.24 L294.00,147.23 L294.50,147.23 L295.00,147.23 L295.50,147.22 L296.00,147.21 L296.50,147.19 L297.00,147.16 L297.50,147.10 L298.00,147.00 L298.50,146.84 L299.00,146.60 L299.50,146.26 L300.00,145.80 L300.50,145.21 L301.00,144.51 L301.50,143.74 L302.00,142.94 L302.50,142.21 L303.00,141.61 L303.50,141.23 L304.00,141.11 L304.50,141.26 L305.00,141.66 L305.50,142.27 L306.00,142.99 L306.50,143.76 L307.00,144.50 L307.50,145.15 L308.00,145.69 L308.50,146.11 L309.00,146.41 L309.50,146.62 L310.00,146.75 L310.50,146.82 L311.00,146.86 L311.50,146.87 L312.00,146.87 L312.50,146.87 L313.00,146.86 L313.50,146.84 L314.00,146.82 L314.50,146.79 L315.00,146.74 L315.50,146.65 L316.00,146.51 L316.50,146.29 L317.00,145.98 L317.50,145.56 L318.00,145.05 L318.50,144.50 L319.00,143.98 L319.50,143.59 L320.00,143.38 L320.50,143.40 L321.00,143.65 L321.50,144.06 L322.00,144.57 L322.50,145.09 L323.00,145.54 L323.50,145.90 L324.00,146.15 L324.50,146.31 L325.00,146.41 L325.50,146.45 L326.00,146.47 L326.50,146.46 L327.00,146.45 L327.50,146.39 L328.00,146.21 L328.50,145.80 L329.00,145.21 L329.50,144.75 L330.00,144.80 L330.50,145.28 L331.00,145.82 L331.50,146.15 L332.00,146.27 L332.50,146.29 L333.00,146.28 L333.50,146.25 L334.00,146.15 L334.50,145.93 L335.00,145.59 L335.50,145.27 L336.00,145.23 L336.50,145.47 L337.00,145.80 L337.50,146.02 L338.00,146.11 L338.50,146.12 L339.00,146.11 L339.50,146.10 L340.00,146.08 L340.50,146.07 L341.00,146.05 L341.50,146.04 L342.00,146.02 L342.50,146.01 L343.00,145.99 L343.50,145.98 L344.00,145.96 L344.50,145.95 L345.00,145.93 L345.50,145.92 L346.00,145.90 L346.50,145.89 L347.00,145.87 L347.50,145.86 L348.00,145.84 L348.50,145.83" fill="none" stroke="#ff4545" stroke-width="0.75" stroke-linejoin="round"/>
<path d="M63.00,225.32 L63.50,225.31 L64.00,225.30 L64.50,225.29 L65.00,225.28 L65.50,225.26 L66.00,225.25 L66.50,225.24 L67.00,225.22 L67.50,225.21 L68.00,225.19 L68.50,225.18 L69.00,225.16 L69.50,225.14 L70.00,225.12 L70.50,225.10 L71.00,225.08 L71.50,225.06 L72.00,225.03 L72.50,225.01 L73.00,224.98 L73.50,224.95 L74.00,224.92 L74.50,224.89 L75.00,224.85 L75.50,224.82 L76.00,224.78 L76.50,224.73 L77.00,224.69 L77.50,224.64 L78.00,224.58 L78.50,224.52 L79.00,224.46 L79.50,224.39 L80.00,224.32 L80.50,224.23 L81.00,224.14 L81.50,224.04 L82.00,223.93 L82.50,223.81 L83.00,223.67 L83.50,223.52 L84.00,223.35 L84.50,223.16 L85.00,222.94 L85.50,222.68 L86.00,222.38 L86.50,222.02 L87.00,221.58 L87.50,221.02 L88.00,220.31 L88.50,219.38 L89.00,218.15 L89.50,216.54 L90.00,214.45 L90.50,211.76 L91.00,208.39 L91.50,204.26 L92.00,199.34 L92.50,193.70 L93.00,187.48 L93.50,180.95 L94.00,174.57 L94.50,169.00 L95.00,165.00 L95.50,163.31 L96.00,164.27 L96.50,167.68 L97.00,172.89 L97.50,179.11 L98.00,185.65 L98.50,191.99 L99.00,197.81 L99.50,202.93 L100.00,207.26 L100.50,210.81 L101.00,213.62 L101.50,215.75 L102.00,217.28 L102.50,218.30 L103.00,218.87 L103.50,219.10 L104.00,219.12 L104.50,219.06 L105.00,219.06 L105.50,219.24 L106.00,219.64 L106.50,220.24 L107.00,220.97 L107.50,221.72 L108.00,222.40 L108.50,222.97 L109.00,223.40 L109.50,223.71 L110.00,223.92 L110.50,224.07 L111.00,224.18 L111.50,224.27 L112.00,224.34 L112.50,224.40 L113.00,224.46 L113.50,224.51 L114.00,224.56 L114.50,224.61 L115.00,224.65 L115.50,224.68 L116.00,224.72 L116.50,224.75 L117.00,224.78 L117.50,224.81 L118.00,224.83 L118.50,224.86 L119.00,224.88 L119.50,224.90 L120.00,224.92 L120.50,224.94 L121.00,224.96 L121.50,224.97 L122.00,224.99 L122.50,225.00 L123.00,225.01 L123.50,225.03 L124.00,225.04 L124.50,225.05 L125.00,225.06 L125.50,225.07 L126.00,225.07 L126.50,225.08 L127.00,225.09 L127.50,225.10 L128.00,225.10 L128.50,225.11 L129.00,225.11 L129.50,225.12 L130.00,225.12 L130.50,225.13 L131.00,225.13 L131.50,225.14 L132.00,225.14 L132.50,225.14 L133.00,225.14 L133.50,225.15 L134.00,225.15 L134.50,225.15 L135.00,225.15 L135.50,225.15 L136.00,225.15 L136.50,225.15 L137.00,225.15 L137.50,225.15 L138.00,225.15 L138.50,225.15 L139.00,225.14 L139.50,225.14 L140.00,225.14 L140.50,225.14 L141.00,225.13 L141.50,225.13 L142.00,225.13 L142.50,225.12 L143.00,225.12 L143.50,225.11 L144.00,225.11 L144.50,225.10 L145.00,225.09 L145.50,225.09 L146.00,225.08 L146.50,225.07 L147.00,225.06 L147.50,225.05 L148.00,225.04 L148.50,225.03 L149.00,225.01 L149.50,225.00 L150.00,224.98 L150.50,224.96 L151.00,224.93 L151.50,224.91 L152.00,224.88 L152.50,224.84 L153.00,224.81 L153.50,224.77 L154.00,224.73 L154.50,224.69 L155.00,224.63 L155.50,224.57 L156.00,224.50 L156.50,224.41 L157.00,224.30 L157.50,224.15 L158.00,223.96 L158.50,223.71 L159.00,223.39 L159.50,222.96 L160.00,222.41 L160.50,221.72 L161.00,220.86 L161.50,219.82 L162.00,218.61 L162.50,217.22 L163.00,215.69 L163.50,214.06 L164.00,212.40 L164.50,210.80 L165.00,209.36 L165.50,208.21 L166.00,207.45 L166.50,207.17 L167.00,207.38 L167.50,208.02 L168.00,208.98 L168.50,210.10 L169.00,211.22 L169.50,212.24 L170.00,213.07 L170.50,213.72 L171.00,214.24 L171.50,214.72 L172.00,215.27 L172.50,215.98 L173.00,216.87 L173.50,217.90 L174.00,218.98 L174.50,220.01 L175.00,220.91 L175.50,221.61 L176.00,222.10 L176.50,222.40 L177.00,222.53 L177.50,222.53 L178.00,222.43 L178.50,222.24 L179.00,221.96 L179.50,221.59 L180.00,221.11 L180.50,220.50 L181.00,219.72 L181.50,218.75 L182.00,217.57 L182.50,216.14 L183.00,214.47 L183.50,212.58 L184.00,210.52 L184.50,208.42 L185.00,206.47 L185.50,204.95 L186.00,204.16 L186.50,204.27 L187.00,205.26 L187.50,206.91 L188.00,208.92 L188.50,211.03 L189.00,213.06 L189.50,214.90 L190.00,216.51 L190.50,217.88 L191.00,219.02 L191.50,219.95 L192.00,220.69 L192.50,221.29 L193.00,221.76 L193.50,222.13 L194.00,222.42 L194.50,222.66 L195.00,222.86 L195.50,223.02 L196.00,223.15 L196.50,223.27 L197.00,223.37 L197.50,223.45 L198.00,223.53 L198.50,223.59 L199.00,223.65 L199.50,223.70 L200.00,223.75 L200.50,223.79 L201.00,223.82 L201.50,223.86 L202.00,223.88 L202.50,223.91 L203.00,223.93 L203.50,223.95 L204.00,223.97 L204.50,223.98 L205.00,224.00 L205.50,223.95 L206.00,223.90 L206.50,223.84 L207.00,223.79 L207.50,223.73 L208.00,223.67 L208.50,223.62 L209.00,223.56 L209.50,223.50 L210.00,223.44 L210.50,223.37 L211.00,223.31 L211.50,223.25 L212.00,223.17 L212.50,223.09 L213.00,223.00 L213.50,222.87 L214.00,222.70 L214.50,222.45 L215.00,222.10 L215.50,221.65 L216.00,221.02 L216.50,220.15 L217.00,219.04 L217.50,217.69 L218.00,216.16 L218.50,214.56 L219.00,213.02 L219.50,211.70 L220.00,210.76 L220.50,210.30 L221.00,210.40 L221.50,211.03 L222.00,212.11 L222.50,213.52 L223.00,215.09 L223.50,216.67 L224.00,218.13 L224.50,219.39 L225.00,220.40 L225.50,221.18 L226.00,221.73 L226.50,222.10 L227.00,222.34 L227.50,222.49 L228.00,222.57 L228.50,222.61 L229.00,222.62 L229.50,222.61 L230.00,222.59 L230.50,222.55 L231.00,222.48 L231.50,222.36 L232.00,222.19 L232.50,221.88 L233.00,221.47 L233.50,220.93 L234.00,220.26 L234.50,219.45 L235.00,218.53 L235.50,217.53 L236.00,216.53 L236.50,215.59 L237.00,214.80 L237.50,214.25 L238.00,213.97 L238.50,214.00 L239.00,214.33 L239.50,214.91 L240.00,215.66 L240.50,216.52 L241.00,217.39 L241.50,218.21 L242.00,218.93 L242.50,219.51 L243.00,219.95 L243.50,220.25 L244.00,220.40 L244.50,220.40 L245.00,220.24 L245.50,219.75 L246.00,219.13 L246.50,218.45 L247.00,217.82 L247.50,217.36 L248.00,217.15 L248.50,217.16 L249.00,217.32 L249.50,217.52 L250.00,217.66 L250.50,217.70 L251.00,217.62 L251.50,217.45 L252.00,217.22 L252.50,216.96 L253.00,216.67 L253.50,216.36 L254.00,216.02 L254.50,215.65 L255.00,215.24 L255.50,215.06 L256.00,214.81 L256.50,214.47 L257.00,214.04 L257.50,213.50 L258.00,212.87 L258.50,212.16 L259.00,211.41 L259.50,210.68 L260.00,210.06 L260.50,209.65 L261.00,209.54 L261.50,209.76 L262.00,210.29 L262.50,211.01 L263.00,211.85 L263.50,212.71 L264.00,213.53 L264.50,214.27 L265.00,214.92 L265.50,215.47 L266.00,215.91 L266.50,216.28 L267.00,216.56 L267.50,216.79 L268.00,216.97 L268.50,217.07 L269.00,217.14 L269.50,217.19 L270.00,217.23 L270.50,217.26 L271.00,217.29 L271.50,217.31 L272.00,217.33 L272.50,217.34 L273.00,217.36 L273.50,217.37 L274.00,217.38 L274.50,217.38 L275.00,217.39 L275.50,217.39 L276.00,217.40 L276.50,217.40 L277.00,217.40 L277.50,217.40 L278.00,217.40 L278.50,217.40 L279.00,217.39 L279.50,217.39 L280.00,217.39 L280.50,217.38 L281.00,217.37 L281.50,217.37 L282.00,217.36 L282.50,217.35 L283.00,217.33 L283.50,217.32 L284.00,217.31 L284.50,217.29 L285.00,217.27 L285.50,217.25 L286.00,217.22 L286.50,217.20 L287.00,217.17 L287.50,217.13 L288.00,217.09 L288.50,217.04 L289.00,216.99 L289.50,216.93 L290.00,216.86 L290.50,216.78 L291.00,216.69 L291.50,216.58 L292.00,216.44 L292.50,216.27 L293.00,216.06 L293.50,215.79 L294.00,215.47 L294.50,215.08 L295.00,214.62 L295.50,214.09 L296.00,213.50 L296.50,212.88 L297.00,212.28 L297.50,211.80 L298.00,211.52 L298.50,211.53 L299.00,211.81 L299.50,212.31 L300.00,212.93 L300.50,213.58 L301.00,214.21 L301.50,214.77 L302.00,215.27 L302.50,215.69 L303.00,216.05 L303.50,216.35 L304.00,216.60 L304.50,216.80 L305.00,216.97 L305.50,217.04 L306.00,217.09 L306.50,217.12 L307.00,217.13 L307.50,217.12 L308.00,217.10 L308.50,217.05 L309.00,216.96 L309.50,216.80 L310.00,216.56 L310.50,216.21 L311.00,215.76 L311.50,215.23 L312.00,214.66 L312.50,214.15 L313.00,213.77 L313.50,213.61 L314.00,213.67 L314.50,213.95 L315.00,214.36 L315.50,214.84 L316.00,215.28 L316.50,215.65 L317.00,215.90 L317.50,216.05 L318.00,216.10 L318.50,216.08 L319.00,216.00 L319.50,215.87 L320.00,215.70 L320.50,215.51 L321.00,215.30 L321.50,215.07 L322.00,214.85 L322.50,214.65 L323.00,214.50 L323.50,214.41 L324.00,214.38 L324.50,214.41 L325.00,214.48 L325.50,214.57 L326.00,214.66 L326.50,214.73 L327.00,214.76 L327.50,214.76 L328.00,214.72 L328.50,214.65 L329.00,214.56 L329.50,214.48 L330.00,214.42 L330.50,214.39 L331.00,214.40 L331.50,214.44 L332.00,214.50 L332.50,214.56 L333.00,214.62 L333.50,214.67 L334.00,214.71 L334.50,214.74 L335.00,214.76 L335.50,214.78 L336.00,214.78 L336.50,214.78 L337.00,214.77 L337.50,214.76 L338.00,214.75 L338.50,214.73 L339.00,214.71 L339.50,214.69 L340.00,214.67 L340.50,214.64 L341.00,214.62 L341.50,214.59 L342.00,214.56 L342.50,214.53 L343.00,214.50 L343.50,214.47 L344.00,214.44 L344.50,214.41 L345.00,214.37 L345.50,214.34 L346.00,214.31 L346.50,214.27 L347.00,214.24 L347.50,214.21 L348.00,214.17 L348.50,214.14 L348.50,226.5 L63.00,226.5 Z" fill="#dcd8f8" stroke="none"/>
<path d="M63.00,225.32 L63.50,225.31 L64.00,225.30 L64.50,225.29 L65.00,225.28 L65.50,225.26 L66.00,225.25 L66.50,225.24 L67.00,225.22 L67.50,225.21 L68.00,225.19 L68.50,225.18 L69.00,225.16 L69.50,225.14 L70.00,225.12 L70.50,225.10 L71.00,225.08 L71.50,225.06 L72.00,225.03 L72.50,225.01 L73.00,224.98 L73.50,224.95 L74.00,224.92 L74.50,224.89 L75.00,224.85 L75.50,224.82 L76.00,224.78 L76.50,224.73 L77.00,224.69 L77.50,224.64 L78.00,224.58 L78.50,224.52 L79.00,224.46 L79.50,224.39 L80.00,224.32 L80.50,224.23 L81.00,224.14 L81.50,224.04 L82.00,223.93 L82.50,223.81 L83.00,223.67 L83.50,223.52 L84.00,223.35 L84.50,223.16 L85.00,222.94 L85.50,222.68 L86.00,222.38 L86.50,222.02 L87.00,221.58 L87.50,221.02 L88.00,220.31 L88.50,219.38 L89.00,218.15 L89.50,216.54 L90.00,214.45 L90.50,211.76 L91.00,208.39 L91.50,204.26 L92.00,199.34 L92.50,193.70 L93.00,187.48 L93.50,180.95 L94.00,174.57 L94.50,169.00 L95.00,165.00 L95.50,163.31 L96.00,164.27 L96.50,167.68 L97.00,172.89 L97.50,179.11 L98.00,185.65 L98.50,191.99 L99.00,197.81 L99.50,202.93 L100.00,207.26 L100.50,210.81 L101.00,213.62 L101.50,215.75 L102.00,217.28 L102.50,218.30 L103.00,218.87 L103.50,219.10 L104.00,219.12 L104.50,219.06 L105.00,219.06 L105.50,219.24 L106.00,219.64 L106.50,220.24 L107.00,220.97 L107.50,221.72 L108.00,222.40 L108.50,222.97 L109.00,223.40 L109.50,223.71 L110.00,223.92 L110.50,224.07 L111.00,224.18 L111.50,224.27 L112.00,224.34 L112.50,224.40 L113.00,224.46 L113.50,224.51 L114.00,224.56 L114.50,224.61 L115.00,224.65 L115.50,224.68 L116.00,224.72 L116.50,224.75 L117.00,224.78 L117.50,224.81 L118.00,224.83 L118.50,224.86 L119.00,224.88 L119.50,224.90 L120.00,224.92 L120.50,224.94 L121.00,224.96 L121.50,224.97 L122.00,224.99 L122.50,225.00 L123.00,225.01 L123.50,225.03 L124.00,225.04 L124.50,225.05 L125.00,225.06 L125.50,225.07 L126.00,225.07 L126.50,225.08 L127.00,225.09 L127.50,225.10 L128.00,225.10 L128.50,225.11 L129.00,225.11 L129.50,225.12 L130.00,225.12 L130.50,225.13 L131.00,225.13 L131.50,225.14 L132.00,225.14 L132.50,225.14 L133.00,225.14 L133.50,225.15 L134.00,225.15 L134.50,225.15 L135.00,225.15 L135.50,225.15 L136.00,225.15 L136.50,225.15 L137.00,225.15 L137.50,225.15 L138.00,225.15 L138.50,225.15 L139.00,225.14 L139.50,225.14 L140.00,225.14 L140.50,225.14 L141.00,225.13 L141.50,225.13 L142.00,225.13 L142.50,225.12 L143.00,225.12 L143.50,225.11 L144.00,225.11 L144.50,225.10 L145.00,225.09 L145.50,225.09 L146.00,225.08 L146.50,225.07 L147.00,225.06 L147.50,225.05 L148.00,225.04 L148.50,225.03 L149.00,225.01 L149.50,225.00 L150.00,224.98 L150.50,224.96 L151.00,224.93 L151.50,224.91 L152.00,224.88 L152.50,224.84 L153.00,224.81 L153.50,224.77 L154.00,224.73 L154.50,224.69 L155.00,224.63 L155.50,224.57 L156.00,224.50 L156.50,224.41 L157.00,224.30 L157.50,224.15 L158.00,223.96 L158.50,223.71 L159.00,223.39 L159.50,222.96 L160.00,222.41 L160.50,221.72 L161.00,220.86 L161.50,219.82 L162.00,218.61 L162.50,217.22 L163.00,215.69 L163.50,214.06 L164.00,212.40 L164.50,210.80 L165.00,209.36 L165.50,208.21 L166.00,207.45 L166.50,207.17 L167.00,207.38 L167.50,208.02 L168.00,208.98 L168.50,210.10 L169.00,211.22 L169.50,212.24 L170.00,213.07 L170.50,213.72 L171.00,214.24 L171.50,214.72 L172.00,215.27 L172.50,215.98 L173.00,216.87 L173.50,217.90 L174.00,218.98 L174.50,220.01 L175.00,220.91 L175.50,221.61 L176.00,222.10 L176.50,222.40 L177.00,222.53 L177.50,222.53 L178.00,222.43 L178.50,222.24 L179.00,221.96 L179.50,221.59 L180.00,221.11 L180.50,220.50 L181.00,219.72 L181.50,218.75 L182.00,217.57 L182.50,216.14 L183.00,214.47 L183.50,212.58 L184.00,210.52 L184.50,208.42 L185.00,206.47 L185.50,204.95 L186.00,204.16 L186.50,204.27 L187.00,205.26 L187.50,206.91 L188.00,208.92 L188.50,211.03 L189.00,213.06 L189.50,214.90 L190.00,216.51 L190.50,217.88 L191.00,219.02 L191.50,219.95 L192.00,220.69 L192.50,221.29 L193.00,221.76 L193.50,222.13 L194.00,222.42 L194.50,222.66 L195.00,222.86 L195.50,223.02 L196.00,223.15 L196.50,223.27 L197.00,223.37 L197.50,223.45 L198.00,223.53 L198.50,223.59 L199.00,223.65 L199.50,223.70 L200.00,223.75 L200.50,223.79 L201.00,223.82 L201.50,223.86 L202.00,223.88 L202.50,223.91 L203.00,223.93 L203.50,223.95 L204.00,223.97 L204.50,223.98 L205.00,224.00 L205.50,223.95 L206.00,223.90 L206.50,223.84 L207.00,223.79 L207.50,223.73 L208.00,223.67 L208.50,223.62 L209.00,223.56 L209.50,223.50 L210.00,223.44 L210.50,223.37 L211.00,223.31 L211.50,223.25 L212.00,223.17 L212.50,223.09 L213.00,223.00 L213.50,222.87 L214.00,222.70 L214.50,222.45 L215.00,222.10 L215.50,221.65 L216.00,221.02 L216.50,220.15 L217.00,219.04 L217.50,217.69 L218.00,216.16 L218.50,214.56 L219.00,213.02 L219.50,211.70 L220.00,210.76 L220.50,210.30 L221.00,210.40 L221.50,211.03 L222.00,212.11 L222.50,213.52 L223.00,215.09 L223.50,216.67 L224.00,218.13 L224.50,219.39 L225.00,220.40 L225.50,221.18 L226.00,221.73 L226.50,222.10 L227.00,222.34 L227.50,222.49 L228.00,222.57 L228.50,222.61 L229.00,222.62 L229.50,222.61 L230.00,222.59 L230.50,222.55 L231.00,222.48 L231.50,222.36 L232.00,222.19 L232.50,221.88 L233.00,221.47 L233.50,220.93 L234.00,220.26 L234.50,219.45 L235.00,218.53 L235.50,217.53 L236.00,216.53 L236.50,215.59 L237.00,214.80 L237.50,214.25 L238.00,213.97 L238.50,214.00 L239.00,214.33 L239.50,214.91 L240.00,215.66 L240.50,216.52 L241.00,217.39 L241.50,218.21 L242.00,218.93 L242.50,219.51 L243.00,219.95 L243.50,220.25 L244.00,220.40 L244.50,220.40 L245.00,220.24 L245.50,219.75 L246.00,219.13 L246.50,218.45 L247.00,217.82 L247.50,217.36 L248.00,217.15 L248.50,217.16 L249.00,217.32 L249.50,217.52 L250.00,217.66 L250.50,217.70 L251.00,217.62 L251.50,217.45 L252.00,217.22 L252.50,216.96 L253.00,216.67 L253.50,216.36 L254.00,216.02 L254.50,215.65 L255.00,215.24 L255.50,215.06 L256.00,214.81 L256.50,214.47 L257.00,214.04 L257.50,213.50 L258.00,212.87 L258.50,212.16 L259.00,211.41 L259.50,210.68 L260.00,210.06 L260.50,209.65 L261.00,209.54 L261.50,209.76 L262.00,210.29 L262.50,211.01 L263.00,211.85 L263.50,212.71 L264.00,213.53 L264.50,214.27 L265.00,214.92 L265.50,215.47 L266.00,215.91 L266.50,216.28 L267.00,216.56 L267.50,216.79 L268.00,216.97 L268.50,217.07 L269.00,217.14 L269.50,217.19 L270.00,217.23 L270.50,217.26 L271.00,217.29 L271.50,217.31 L272.00,217.33 L272.50,217.34 L273.00,217.36 L273.50,217.37 L274.00,217.38 L274.50,217.38 L275.00,217.39 L275.50,217.39 L276.00,217.40 L276.50,217.40 L277.00,217.40 L277.50,217.40 L278.00,217.40 L278.50,217.40 L279.00,217.39 L279.50,217.39 L280.00,217.39 L280.50,217.38 L281.00,217.37 L281.50,217.37 L282.00,217.36 L282.50,217.35 L283.00,217.33 L283.50,217.32 L284.00,217.31 L284.50,217.29 L285.00,217.27 L285.50,217.25 L286.00,217.22 L286.50,217.20 L287.00,217.17 L287.50,217.13 L288.00,217.09 L288.50,217.04 L289.00,216.99 L289.50,216.93 L290.00,216.86 L290.50,216.78 L291.00,216.69 L291.50,216.58 L292.00,216.44 L292.50,216.27 L293.00,216.06 L293.50,215.79 L294.00,215.47 L294.50,215.08 L295.00,214.62 L295.50,214.09 L296.00,213.50 L296.50,212.88 L297.00,212.28 L297.50,211.80 L298.00,211.52 L298.50,211.53 L299.00,211.81 L299.50,212.31 L300.00,212.93 L300.50,213.58 L301.00,214.21 L301.50,214.77 L302.00,215.27 L302.50,215.69 L303.00,216.05 L303.50,216.35 L304.00,216.60 L304.50,216.80 L305.00,216.97 L305.50,217.04 L306.00,217.09 L306.50,217.12 L307.00,217.13 L307.50,217.12 L308.00,217.10 L308.50,217.05 L309.00,216.96 L309.50,216.80 L310.00,216.56 L310.50,216.21 L311.00,215.76 L311.50,215.23 L312.00,214.66 L312.50,214.15 L313.00,213.77 L313.50,213.61 L314.00,213.67 L314.50,213.95 L315.00,214.36 L315.50,214.84 L316.00,215.28 L316.50,215.65 L317.00,215.90 L317.50,216.05 L318.00,216.10 L318.50,216.08 L319.00,216.00 L319.50,215.87 L320.00,215.70 L320.50,215.51 L321.00,215.30 L321.50,215.07 L322.00,214.85 L322.50,214.65 L323.00,214.50 L323.50,214.41 L324.00,214.38 L324.50,214.41 L325.00,214.48 L325.50,214.57 L326.00,214.66 L326.50,214.73 L327.00,214.76 L327.50,214.76 L328.00,214.72 L328.50,214.65 L329.00,214.56 L329.50,214.48 L330.00,214.42 L330.50,214.39 L331.00,214.40 L331.50,214.44 L332.00,214.50 L332.50,214.56 L333.00,214.62 L333.50,214.67 L334.00,214.71 L334.50,214.74 L335.00,214.76 L335.50,214.78 L336.00,214.78 L336.50,214.78 L337.00,214.77 L337.50,214.76 L338.00,214.75 L338.50,214.73 L339.00,214.71 L339.50,214.69 L340.00,214.67 L340.50,214.64 L341.00,214.62 L341.50,214.59 L342.00,214.56 L342.50,214.53 L343.00,214.50 L343.50,214.47 L344.00,214.44 L344.50,214.41 L345.00,214.37 L345.50,214.34 L346.00,214.31 L346.50,214.27 L347.00,214.24 L347.50,214.21 L348.00,214.17 L348.50,214.14" fill="none" stroke="#1c1c26" stroke-width="1.0" stroke-linejoin="round"/>
<line x1="32.5" y1="0.5" x2="348.5" y2="0.5" stroke="#333" stroke-width="1.0"/>
<line x1="32.5" y1="75.5" x2="348.5" y2="75.5" stroke="#333" stroke-width="1.0"/>
<line x1="32.5" y1="75.5" x2="348.5" y2="75.5" stroke="#333" stroke-width="1.0"/>
<line x1="32.5" y1="150.5" x2="348.5" y2="150.5" stroke="#333" stroke-width="1.0"/>
<line x1="32.5" y1="150.5" x2="348.5" y2="150.5" stroke="#333" stroke-width="1.0"/>
<line x1="32.5" y1="226.5" x2="348.5" y2="226.5" stroke="#333" stroke-width="1.0"/>
<line x1="32.5" y1="0" x2="32.5" y2="227" stroke="#333" stroke-width="1.0"/>
<line x1="348.5" y1="0" x2="348.5" y2="227" stroke="#333" stroke-width="1.0"/>
<path d="M32.56,0.5v2.5M32.56,75.5v-2.5M36.01,0.5v2.5M36.01,75.5v-2.5M39.46,0.5v4.5M39.46,75.5v-4.5M42.91,0.5v2.5M42.91,75.5v-2.5M46.36,0.5v2.5M46.36,75.5v-2.5M49.81,0.5v2.5M49.81,75.5v-2.5M53.26,0.5v2.5M53.26,75.5v-2.5M56.71,0.5v2.5M56.71,75.5v-2.5M60.16,0.5v2.5M60.16,75.5v-2.5M63.61,0.5v2.5M63.61,75.5v-2.5M67.06,0.5v2.5M67.06,75.5v-2.5M70.51,0.5v2.5M70.51,75.5v-2.5M73.96,0.5v4.5M73.96,75.5v-4.5M77.41,0.5v2.5M77.41,75.5v-2.5M80.86,0.5v2.5M80.86,75.5v-2.5M84.31,0.5v2.5M84.31,75.5v-2.5M87.76,0.5v2.5M87.76,75.5v-2.5M91.21,0.5v2.5M91.21,75.5v-2.5M94.66,0.5v2.5M94.66,75.5v-2.5M98.11,0.5v2.5M98.11,75.5v-2.5M101.56,0.5v2.5M101.56,75.5v-2.5M105.01,0.5v2.5M105.01,75.5v-2.5M108.46,0.5v4.5M108.46,75.5v-4.5M111.91,0.5v2.5M111.91,75.5v-2.5M115.36,0.5v2.5M115.36,75.5v-2.5M118.81,0.5v2.5M118.81,75.5v-2.5M122.26,0.5v2.5M122.26,75.5v-2.5M125.71,0.5v2.5M125.71,75.5v-2.5M129.16,0.5v2.5M129.16,75.5v-2.5M132.61,0.5v2.5M132.61,75.5v-2.5M136.06,0.5v2.5M136.06,75.5v-2.5M139.51,0.5v2.5M139.51,75.5v-2.5M142.96,0.5v4.5M142.96,75.5v-4.5M146.41,0.5v2.5M146.41,75.5v-2.5M149.86,0.5v2.5M149.86,75.5v-2.5M153.31,0.5v2.5M153.31,75.5v-2.5M156.76,0.5v2.5M156.76,75.5v-2.5M160.21,0.5v2.5M160.21,75.5v-2.5M163.66,0.5v2.5M163.66,75.5v-2.5M167.11,0.5v2.5M167.11,75.5v-2.5M170.56,0.5v2.5M170.56,75.5v-2.5M174.01,0.5v2.5M174.01,75.5v-2.5M177.46,0.5v4.5M177.46,75.5v-4.5M180.91,0.5v2.5M180.91,75.5v-2.5M184.36,0.5v2.5M184.36,75.5v-2.5M187.81,0.5v2.5M187.81,75.5v-2.5M191.26,0.5v2.5M191.26,75.5v-2.5M194.71,0.5v2.5M194.71,75.5v-2.5M198.16,0.5v2.5M198.16,75.5v-2.5M201.61,0.5v2.5M201.61,75.5v-2.5M205.06,0.5v2.5M205.06,75.5v-2.5M208.51,0.5v2.5M208.51,75.5v-2.5M211.96,0.5v4.5M211.96,75.5v-4.5M215.41,0.5v2.5M215.41,75.5v-2.5M218.86,0.5v2.5M218.86,75.5v-2.5M222.31,0.5v2.5M222.31,75.5v-2.5M225.76,0.5v2.5M225.76,75.5v-2.5M229.21,0.5v2.5M229.21,75.5v-2.5M232.66,0.5v2.5M232.66,75.5v-2.5M236.11,0.5v2.5M236.11,75.5v-2.5M239.56,0.5v2.5M239.56,75.5v-2.5M243.01,0.5v2.5M243.01,75.5v-2.5M246.46,0.5v4.5M246.46,75.5v-4.5M249.91,0.5v2.5M249.91,75.5v-2.5M253.36,0.5v2.5M253.36,75.5v-2.5M256.81,0.5v2.5M256.81,75.5v-2.5M260.26,0.5v2.5M260.26,75.5v-2.5M263.71,0.5v2.5M263.71,75.5v-2.5M267.16,0.5v2.5M267.16,75.5v-2.5M270.61,0.5v2.5M270.61,75.5v-2.5M274.06,0.5v2.5M274.06,75.5v-2.5M277.51,0.5v2.5M277.51,75.5v-2.5M280.96,0.5v4.5M280.96,75.5v-4.5M284.41,0.5v2.5M284.41,75.5v-2.5M287.86,0.5v2.5M287.86,75.5v-2.5M291.31,0.5v2.5M291.31,75.5v-2.5M294.76,0.5v2.5M294.76,75.5v-2.5M298.21,0.5v2.5M298.21,75.5v-2.5M301.66,0.5v2.5M301.66,75.5v-2.5M305.11,0.5v2.5M305.11,75.5v-2.5M308.56,0.5v2.5M308.56,75.5v-2.5M312.01,0.5v2.5M312.01,75.5v-2.5M315.46,0.5v4.5M315.46,75.5v-4.5M318.91,0.5v2.5M318.91,75.5v-2.5M322.36,0.5v2.5M322.36,75.5v-2.5M325.81,0.5v2.5M325.81,75.5v-2.5M329.26,0.5v2.5M329.26,75.5v-2.5M332.71,0.5v2.5M332.71,75.5v-2.5M336.16,0.5v2.5M336.16,75.5v-2.5M339.61,0.5v2.5M339.61,75.5v-2.5M343.06,0.5v2.5M343.06,75.5v-2.5M346.51,0.5v2.5M346.51,75.5v-2.5M32.56,75.5v2.5M32.56,150.5v-2.5M36.01,75.5v2.5M36.01,150.5v-2.5M39.46,75.5v4.5M39.46,150.5v-4.5M42.91,75.5v2.5M42.91,150.5v-2.5M46.36,75.5v2.5M46.36,150.5v-2.5M49.81,75.5v2.5M49.81,150.5v-2.5M53.26,75.5v2.5M53.26,150.5v-2.5M56.71,75.5v2.5M56.71,150.5v-2.5M60.16,75.5v2.5M60.16,150.5v-2.5M63.61,75.5v2.5M63.61,150.5v-2.5M67.06,75.5v2.5M67.06,150.5v-2.5M70.51,75.5v2.5M70.51,150.5v-2.5M73.96,75.5v4.5M73.96,150.5v-4.5M77.41,75.5v2.5M77.41,150.5v-2.5M80.86,75.5v2.5M80.86,150.5v-2.5M84.31,75.5v2.5M84.31,150.5v-2.5M87.76,75.5v2.5M87.76,150.5v-2.5M91.21,75.5v2.5M91.21,150.5v-2.5M94.66,75.5v2.5M94.66,150.5v-2.5M98.11,75.5v2.5M98.11,150.5v-2.5M101.56,75.5v2.5M101.56,150.5v-2.5M105.01,75.5v2.5M105.01,150.5v-2.5M108.46,75.5v4.5M108.46,150.5v-4.5M111.91,75.5v2.5M111.91,150.5v-2.5M115.36,75.5v2.5M115.36,150.5v-2.5M118.81,75.5v2.5M118.81,150.5v-2.5M122.26,75.5v2.5M122.26,150.5v-2.5M125.71,75.5v2.5M125.71,150.5v-2.5M129.16,75.5v2.5M129.16,150.5v-2.5M132.61,75.5v2.5M132.61,150.5v-2.5M136.06,75.5v2.5M136.06,150.5v-2.5M139.51,75.5v2.5M139.51,150.5v-2.5M142.96,75.5v4.5M142.96,150.5v-4.5M146.41,75.5v2.5M146.41,150.5v-2.5M149.86,75.5v2.5M149.86,150.5v-2.5M153.31,75.5v2.5M153.31,150.5v-2.5M156.76,75.5v2.5M156.76,150.5v-2.5M160.21,75.5v2.5M160.21,150.5v-2.5M163.66,75.5v2.5M163.66,150.5v-2.5M167.11,75.5v2.5M167.11,150.5v-2.5M170.56,75.5v2.5M170.56,150.5v-2.5M174.01,75.5v2.5M174.01,150.5v-2.5M177.46,75.5v4.5M177.46,150.5v-4.5M180.91,75.5v2.5M180.91,150.5v-2.5M184.36,75.5v2.5M184.36,150.5v-2.5M187.81,75.5v2.5M187.81,150.5v-2.5M191.26,75.5v2.5M191.26,150.5v-2.5M194.71,75.5v2.5M194.71,150.5v-2.5M198.16,75.5v2.5M198.16,150.5v-2.5M201.61,75.5v2.5M201.61,150.5v-2.5M205.06,75.5v2.5M205.06,150.5v-2.5M208.51,75.5v2.5M208.51,150.5v-2.5M211.96,75.5v4.5M211.96,150.5v-4.5M215.41,75.5v2.5M215.41,150.5v-2.5M218.86,75.5v2.5M218.86,150.5v-2.5M222.31,75.5v2.5M222.31,150.5v-2.5M225.76,75.5v2.5M225.76,150.5v-2.5M229.21,75.5v2.5M229.21,150.5v-2.5M232.66,75.5v2.5M232.66,150.5v-2.5M236.11,75.5v2.5M236.11,150.5v-2.5M239.56,75.5v2.5M239.56,150.5v-2.5M243.01,75.5v2.5M243.01,150.5v-2.5M246.46,75.5v4.5M246.46,150.5v-4.5M249.91,75.5v2.5M249.91,150.5v-2.5M253.36,75.5v2.5M253.36,150.5v-2.5M256.81,75.5v2.5M256.81,150.5v-2.5M260.26,75.5v2.5M260.26,150.5v-2.5M263.71,75.5v2.5M263.71,150.5v-2.5M267.16,75.5v2.5M267.16,150.5v-2.5M270.61,75.5v2.5M270.61,150.5v-2.5M274.06,75.5v2.5M274.06,150.5v-2.5M277.51,75.5v2.5M277.51,150.5v-2.5M280.96,75.5v4.5M280.96,150.5v-4.5M284.41,75.5v2.5M284.41,150.5v-2.5M287.86,75.5v2.5M287.86,150.5v-2.5M291.31,75.5v2.5M291.31,150.5v-2.5M294.76,75.5v2.5M294.76,150.5v-2.5M298.21,75.5v2.5M298.21,150.5v-2.5M301.66,75.5v2.5M301.66,150.5v-2.5M305.11,75.5v2.5M305.11,150.5v-2.5M308.56,75.5v2.5M308.56,150.5v-2.5M312.01,75.5v2.5M312.01,150.5v-2.5M315.46,75.5v4.5M315.46,150.5v-4.5M318.91,75.5v2.5M318.91,150.5v-2.5M322.36,75.5v2.5M322.36,150.5v-2.5M325.81,75.5v2.5M325.81,150.5v-2.5M329.26,75.5v2.5M329.26,150.5v-2.5M332.71,75.5v2.5M332.71,150.5v-2.5M336.16,75.5v2.5M336.16,150.5v-2.5M339.61,75.5v2.5M339.61,150.5v-2.5M343.06,75.5v2.5M343.06,150.5v-2.5M346.51,75.5v2.5M346.51,150.5v-2.5M32.56,150.5v2.5M32.56,226.5v-2.5M36.01,150.5v2.5M36.01,226.5v-2.5M39.46,150.5v4.5M39.46,226.5v-4.5M42.91,150.5v2.5M42.91,226.5v-2.5M46.36,150.5v2.5M46.36,226.5v-2.5M49.81,150.5v2.5M49.81,226.5v-2.5M53.26,150.5v2.5M53.26,226.5v-2.5M56.71,150.5v2.5M56.71,226.5v-2.5M60.16,150.5v2.5M60.16,226.5v-2.5M63.61,150.5v2.5M63.61,226.5v-2.5M67.06,150.5v2.5M67.06,226.5v-2.5M70.51,150.5v2.5M70.51,226.5v-2.5M73.96,150.5v4.5M73.96,226.5v-4.5M77.41,150.5v2.5M77.41,226.5v-2.5M80.86,150.5v2.5M80.86,226.5v-2.5M84.31,150.5v2.5M84.31,226.5v-2.5M87.76,150.5v2.5M87.76,226.5v-2.5M91.21,150.5v2.5M91.21,226.5v-2.5M94.66,150.5v2.5M94.66,226.5v-2.5M98.11,150.5v2.5M98.11,226.5v-2.5M101.56,150.5v2.5M101.56,226.5v-2.5M105.01,150.5v2.5M105.01,226.5v-2.5M108.46,150.5v4.5M108.46,226.5v-4.5M111.91,150.5v2.5M111.91,226.5v-2.5M115.36,150.5v2.5M115.36,226.5v-2.5M118.81,150.5v2.5M118.81,226.5v-2.5M122.26,150.5v2.5M122.26,226.5v-2.5M125.71,150.5v2.5M125.71,226.5v-2.5M129.16,150.5v2.5M129.16,226.5v-2.5M132.61,150.5v2.5M132.61,226.5v-2.5M136.06,150.5v2.5M136.06,226.5v-2.5M139.51,150.5v2.5M139.51,226.5v-2.5M142.96,150.5v4.5M142.96,226.5v-4.5M146.41,150.5v2.5M146.41,226.5v-2.5M149.86,150.5v2.5M149.86,226.5v-2.5M153.31,150.5v2.5M153.31,226.5v-2.5M156.76,150.5v2.5M156.76,226.5v-2.5M160.21,150.5v2.5M160.21,226.5v-2.5M163.66,150.5v2.5M163.66,226.5v-2.5M167.11,150.5v2.5M167.11,226.5v-2.5M170.56,150.5v2.5M170.56,226.5v-2.5M174.01,150.5v2.5M174.01,226.5v-2.5M177.46,150.5v4.5M177.46,226.5v-4.5M180.91,150.5v2.5M180.91,226.5v-2.5M184.36,150.5v2.5M184.36,226.5v-2.5M187.81,150.5v2.5M187.81,226.5v-2.5M191.26,150.5v2.5M191.26,226.5v-2.5M194.71,150.5v2.5M194.71,226.5v-2.5M198.16,150.5v2.5M198.16,226.5v-2.5M201.61,150.5v2.5M201.61,226.5v-2.5M205.06,150.5v2.5M205.06,226.5v-2.5M208.51,150.5v2.5M208.51,226.5v-2.5M211.96,150.5v4.5M211.96,226.5v-4.5M215.41,150.5v2.5M215.41,226.5v-2.5M218.86,150.5v2.5M218.86,226.5v-2.5M222.31,150.5v2.5M222.31,226.5v-2.5M225.76,150.5v2.5M225.76,226.5v-2.5M229.21,150.5v2.5M229.21,226.5v-2.5M232.66,150.5v2.5M232.66,226.5v-2.5M236.11,150.5v2.5M236.11,226.5v-2.5M239.56,150.5v2.5M239.56,226.5v-2.5M243.01,150.5v2.5M243.01,226.5v-2.5M246.46,150.5v4.5M246.46,226.5v-4.5M249.91,150.5v2.5M249.91,226.5v-2.5M253.36,150.5v2.5M253.36,226.5v-2.5M256.81,150.5v2.5M256.81,226.5v-2.5M260.26,150.5v2.5M260.26,226.5v-2.5M263.71,150.5v2.5M263.71,226.5v-2.5M267.16,150.5v2.5M267.16,226.5v-2.5M270.61,150.5v2.5M270.61,226.5v-2.5M274.06,150.5v2.5M274.06,226.5v-2.5M277.51,150.5v2.5M277.51,226.5v-2.5M280.96,150.5v4.5M280.96,226.5v-4.5M284.41,150.5v2.5M284.41,226.5v-2.5M287.86,150.5v2.5M287.86,226.5v-2.5M291.31,150.5v2.5M291.31,226.5v-2.5M294.76,150.5v2.5M294.76,226.5v-2.5M298.21,150.5v2.5M298.21,226.5v-2.5M301.66,150.5v2.5M301.66,226.5v-2.5M305.11,150.5v2.5M305.11,226.5v-2.5M308.56,150.5v2.5M308.56,226.5v-2.5M312.01,150.5v2.5M312.01,226.5v-2.5M315.46,150.5v4.5M315.46,226.5v-4.5M318.91,150.5v2.5M318.91,226.5v-2.5M322.36,150.5v2.5M322.36,226.5v-2.5M325.81,150.5v2.5M325.81,226.5v-2.5M329.26,150.5v2.5M329.26,226.5v-2.5M332.71,150.5v2.5M332.71,226.5v-2.5M336.16,150.5v2.5M336.16,226.5v-2.5M339.61,150.5v2.5M339.61,226.5v-2.5M343.06,150.5v2.5M343.06,226.5v-2.5M346.51,150.5v2.5M346.51,226.5v-2.5M32.5,75.50h4.5M348.5,75.50h-4.5M32.5,67.10h2.5M348.5,67.10h-2.5M32.5,58.70h4.5M348.5,58.70h-4.5M32.5,50.30h2.5M348.5,50.30h-2.5M32.5,41.90h4.5M348.5,41.90h-4.5M32.5,33.50h2.5M348.5,33.50h-2.5M32.5,25.10h4.5M348.5,25.10h-4.5M32.5,16.70h2.5M348.5,16.70h-2.5M32.5,8.30h4.5M348.5,8.30h-4.5M32.5,150.50h4.5M348.5,150.50h-4.5M32.5,143.00h2.5M348.5,143.00h-2.5M32.5,135.50h2.5M348.5,135.50h-2.5M32.5,128.00h2.5M348.5,128.00h-2.5M32.5,120.50h4.5M348.5,120.50h-4.5M32.5,113.00h2.5M348.5,113.00h-2.5M32.5,105.50h2.5M348.5,105.50h-2.5M32.5,98.00h2.5M348.5,98.00h-2.5M32.5,90.50h4.5M348.5,90.50h-4.5M32.5,83.00h2.5M348.5,83.00h-2.5M32.5,75.50h2.5M348.5,75.50h-2.5M32.5,226.50h4.5M348.5,226.50h-4.5M32.5,220.20h2.5M348.5,220.20h-2.5M32.5,213.90h2.5M348.5,213.90h-2.5M32.5,207.60h2.5M348.5,207.60h-2.5M32.5,201.30h2.5M348.5,201.30h-2.5M32.5,195.00h4.5M348.5,195.00h-4.5M32.5,188.70h2.5M348.5,188.70h-2.5M32.5,182.40h2.5M348.5,182.40h-2.5M32.5,176.10h2.5M348.5,176.10h-2.5M32.5,169.80h2.5M348.5,169.80h-2.5M32.5,163.50h4.5M348.5,163.50h-4.5M32.5,157.20h2.5M348.5,157.20h-2.5M32.5,150.90h2.5M348.5,150.90h-2.5" stroke="#333" stroke-width="0.9" fill="none"/>
<text x="39.46" y="238.6" font-size="10.5" font-family="Liberation Sans, Arial, sans-serif" stroke="#000" stroke-width="0.25" text-anchor="middle" fill="#000" >882</text>
<text x="73.96" y="238.6" font-size="10.5" font-family="Liberation Sans, Arial, sans-serif" stroke="#000" stroke-width="0.25" text-anchor="middle" fill="#000" >884</text>
<text x="108.46" y="238.6" font-size="10.5" font-family="Liberation Sans, Arial, sans-serif" stroke="#000" stroke-width="0.25" text-anchor="middle" fill="#000" >886</text>
<text x="142.96" y="238.6" font-size="10.5" font-family="Liberation Sans, Arial, sans-serif" stroke="#000" stroke-width="0.25" text-anchor="middle" fill="#000" >888</text>
<text x="177.46" y="238.6" font-size="10.5" font-family="Liberation Sans, Arial, sans-serif" stroke="#000" stroke-width="0.25" text-anchor="middle" fill="#000" >890</text>
<text x="211.96" y="238.6" font-size="10.5" font-family="Liberation Sans, Arial, sans-serif" stroke="#000" stroke-width="0.25" text-anchor="middle" fill="#000" >892</text>
<text x="246.46" y="238.6" font-size="10.5" font-family="Liberation Sans, Arial, sans-serif" stroke="#000" stroke-width="0.25" text-anchor="middle" fill="#000" >894</text>
<text x="280.96" y="238.6" font-size="10.5" font-family="Liberation Sans, Arial, sans-serif" stroke="#000" stroke-width="0.25" text-anchor="middle" fill="#000" >896</text>
<text x="315.46" y="238.6" font-size="10.5" font-family="Liberation Sans, Arial, sans-serif" stroke="#000" stroke-width="0.25" text-anchor="middle" fill="#000" >898</text>
<text x="28.3" y="79.05" font-size="10.5" font-family="Liberation Sans, Arial, sans-serif" stroke="#000" stroke-width="0.25" text-anchor="end" fill="#000" >0</text>
<text x="28.3" y="62.25" font-size="10.5" font-family="Liberation Sans, Arial, sans-serif" stroke="#000" stroke-width="0.25" text-anchor="end" fill="#000" >2</text>
<text x="28.3" y="45.45" font-size="10.5" font-family="Liberation Sans, Arial, sans-serif" stroke="#000" stroke-width="0.25" text-anchor="end" fill="#000" >4</text>
<text x="28.3" y="28.65" font-size="10.5" font-family="Liberation Sans, Arial, sans-serif" stroke="#000" stroke-width="0.25" text-anchor="end" fill="#000" >6</text>
<text x="28.3" y="11.85" font-size="10.5" font-family="Liberation Sans, Arial, sans-serif" stroke="#000" stroke-width="0.25" text-anchor="end" fill="#000" >8</text>
<text x="28.3" y="154.05" font-size="10.5" font-family="Liberation Sans, Arial, sans-serif" stroke="#000" stroke-width="0.25" text-anchor="end" fill="#000" >0</text>
<text x="28.3" y="124.05" font-size="10.5" font-family="Liberation Sans, Arial, sans-serif" stroke="#000" stroke-width="0.25" text-anchor="end" fill="#000" >2</text>
<text x="28.3" y="94.05" font-size="10.5" font-family="Liberation Sans, Arial, sans-serif" stroke="#000" stroke-width="0.25" text-anchor="end" fill="#000" >4</text>
<text x="28.3" y="230.05" font-size="10.5" font-family="Liberation Sans, Arial, sans-serif" stroke="#000" stroke-width="0.25" text-anchor="end" fill="#000" >0</text>
<text x="28.3" y="198.55" font-size="10.5" font-family="Liberation Sans, Arial, sans-serif" stroke="#000" stroke-width="0.25" text-anchor="end" fill="#000" >1</text>
<text x="28.3" y="167.05" font-size="10.5" font-family="Liberation Sans, Arial, sans-serif" stroke="#000" stroke-width="0.25" text-anchor="end" fill="#000" >2</text>
<text x="39.1" y="17.0" font-size="12" font-family="Liberation Sans, Arial, sans-serif" stroke="#000" stroke-width="0.25" text-anchor="start" fill="#000" >a)</text>
<text x="39.1" y="92.6" font-size="12" font-family="Liberation Sans, Arial, sans-serif" stroke="#000" stroke-width="0.25" text-anchor="start" fill="#000" >b)</text>
<text x="39.1" y="168.0" font-size="12" font-family="Liberation Sans, Arial, sans-serif" stroke="#000" stroke-width="0.25" text-anchor="start" fill="#000" >c)</text>
<text x="264.8" y="15.5" font-size="10.55" font-family="Liberation Sans, Arial, sans-serif" stroke="#000" stroke-width="0.25" text-anchor="start" fill="#000" >Witthoeft et al.</text>
<text x="264.8" y="28.1" font-size="10.55" font-family="Liberation Sans, Arial, sans-serif" stroke="#000" stroke-width="0.25" text-anchor="start" fill="#000" >photoabsorption</text>
<text x="264.8" y="91.3" font-size="10.55" font-family="Liberation Sans, Arial, sans-serif" stroke="#000" stroke-width="0.25" text-anchor="start" fill="#000" >Gorczyca et al.</text>
<text x="264.8" y="103.9" font-size="10.55" font-family="Liberation Sans, Arial, sans-serif" stroke="#000" stroke-width="0.25" text-anchor="start" fill="#000" >photoabsorption</text>
<text x="264.8" y="166.4" font-size="10.55" font-family="Liberation Sans, Arial, sans-serif" stroke="#000" stroke-width="0.25" text-anchor="start" fill="#000" >this experiment</text>
<text x="264.8" y="179.0" font-size="10.55" font-family="Liberation Sans, Arial, sans-serif" stroke="#000" stroke-width="0.25" text-anchor="start" fill="#000" >double ionization</text>
<text y="254.7" font-size="13.3" font-family="Liberation Sans, Arial, sans-serif" stroke="#000" stroke-width="0.25" fill="#000"><tspan x="137.4">Photon</tspan><tspan x="182.5">energy</tspan><tspan x="230.1">(</tspan><tspan x="238.5">eV</tspan><tspan x="258.9">)</tspan></text>
<text y="0" font-size="13.3" font-family="Liberation Sans, Arial, sans-serif" stroke="#000" stroke-width="0.25" fill="#000" transform="translate(9.6,0) rotate(-90)"><tspan x="-168.0">Cross section</tspan><tspan x="-80.8">(</tspan><tspan x="-73.3">Mb</tspan><tspan x="-50.8">)</tspan></text>
</svg></body></html>
